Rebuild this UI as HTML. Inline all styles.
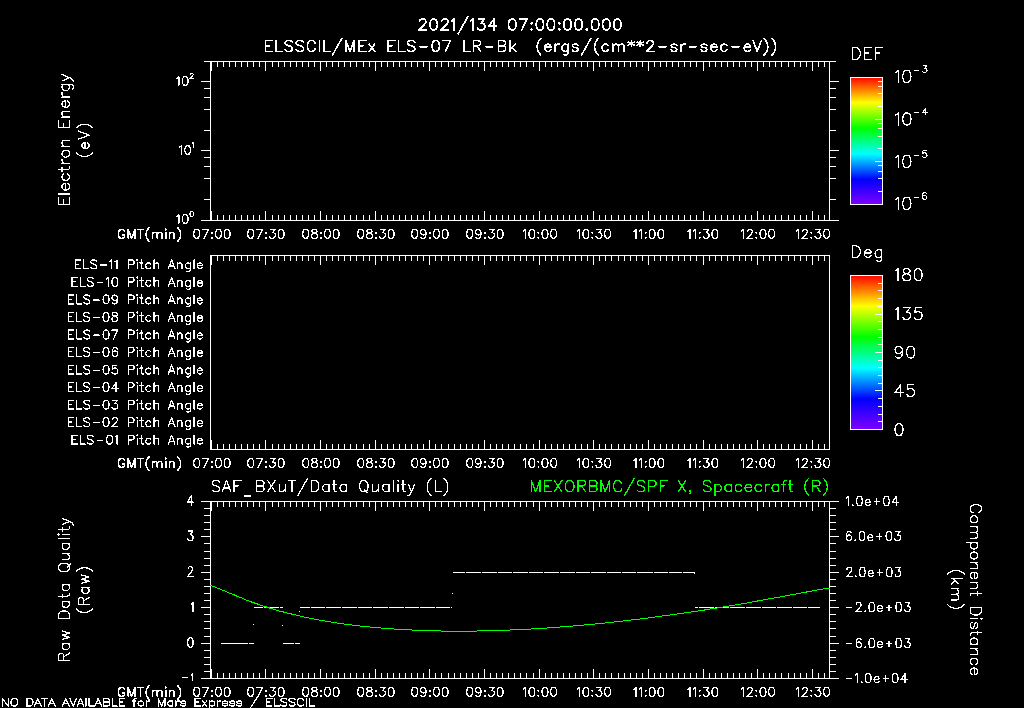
<!DOCTYPE html><html><head><meta charset="utf-8"><style>html,body{margin:0;padding:0;background:#000;}svg{display:block}</style></head><body>
<svg width="1024" height="708" viewBox="0 0 1024 708">
<defs>
<linearGradient id="g1" x1="0" y1="0" x2="0" y2="1"><stop offset="0" stop-color="#ff0000"/><stop offset="0.2" stop-color="#ffff00"/><stop offset="0.4" stop-color="#00ff00"/><stop offset="0.6" stop-color="#00ffff"/><stop offset="0.8" stop-color="#0000ff"/><stop offset="1" stop-color="#8200ff"/></linearGradient>
<linearGradient id="g2" x1="0" y1="0" x2="0" y2="1"><stop offset="0" stop-color="#ff0000"/><stop offset="0.2" stop-color="#ffff00"/><stop offset="0.4" stop-color="#00ff00"/><stop offset="0.6" stop-color="#00ffff"/><stop offset="0.8" stop-color="#0000ff"/><stop offset="1" stop-color="#8200ff"/></linearGradient>
</defs>
<rect width="1024" height="708" fill="#000"/>
<g shape-rendering="crispEdges">
<rect x="850" y="77" width="33" height="128" fill="url(#g1)"/>
<rect x="850" y="275" width="33" height="155" fill="url(#g2)"/>
<path fill="#fff" d="M210 61h620v1h-620zM210 220h620v1h-620zM210 61h1v160h-1zM829 61h1v160h-1zM211 61h1v10h-1zM211 211h1v10h-1zM217 61h1v6h-1zM217 215h1v6h-1zM223 61h1v6h-1zM223 215h1v6h-1zM229 61h1v6h-1zM229 215h1v6h-1zM235 61h1v6h-1zM235 215h1v6h-1zM241 61h1v6h-1zM241 215h1v6h-1zM247 61h1v6h-1zM247 215h1v6h-1zM253 61h1v6h-1zM253 215h1v6h-1zM259 61h1v6h-1zM259 215h1v6h-1zM265 61h1v10h-1zM265 211h1v10h-1zM272 61h1v6h-1zM272 215h1v6h-1zM278 61h1v6h-1zM278 215h1v6h-1zM284 61h1v6h-1zM284 215h1v6h-1zM290 61h1v6h-1zM290 215h1v6h-1zM296 61h1v6h-1zM296 215h1v6h-1zM302 61h1v6h-1zM302 215h1v6h-1zM308 61h1v6h-1zM308 215h1v6h-1zM314 61h1v6h-1zM314 215h1v6h-1zM320 61h1v10h-1zM320 211h1v10h-1zM326 61h1v6h-1zM326 215h1v6h-1zM332 61h1v6h-1zM332 215h1v6h-1zM338 61h1v6h-1zM338 215h1v6h-1zM344 61h1v6h-1zM344 215h1v6h-1zM350 61h1v6h-1zM350 215h1v6h-1zM356 61h1v6h-1zM356 215h1v6h-1zM363 61h1v6h-1zM363 215h1v6h-1zM369 61h1v6h-1zM369 215h1v6h-1zM375 61h1v10h-1zM375 211h1v10h-1zM381 61h1v6h-1zM381 215h1v6h-1zM387 61h1v6h-1zM387 215h1v6h-1zM393 61h1v6h-1zM393 215h1v6h-1zM399 61h1v6h-1zM399 215h1v6h-1zM405 61h1v6h-1zM405 215h1v6h-1zM411 61h1v6h-1zM411 215h1v6h-1zM417 61h1v6h-1zM417 215h1v6h-1zM423 61h1v6h-1zM423 215h1v6h-1zM429 61h1v10h-1zM429 211h1v10h-1zM435 61h1v6h-1zM435 215h1v6h-1zM441 61h1v6h-1zM441 215h1v6h-1zM448 61h1v6h-1zM448 215h1v6h-1zM454 61h1v6h-1zM454 215h1v6h-1zM460 61h1v6h-1zM460 215h1v6h-1zM466 61h1v6h-1zM466 215h1v6h-1zM472 61h1v6h-1zM472 215h1v6h-1zM478 61h1v6h-1zM478 215h1v6h-1zM484 61h1v10h-1zM484 211h1v10h-1zM490 61h1v6h-1zM490 215h1v6h-1zM496 61h1v6h-1zM496 215h1v6h-1zM502 61h1v6h-1zM502 215h1v6h-1zM508 61h1v6h-1zM508 215h1v6h-1zM514 61h1v6h-1zM514 215h1v6h-1zM520 61h1v6h-1zM520 215h1v6h-1zM526 61h1v6h-1zM526 215h1v6h-1zM533 61h1v6h-1zM533 215h1v6h-1zM539 61h1v10h-1zM539 211h1v10h-1zM545 61h1v6h-1zM545 215h1v6h-1zM551 61h1v6h-1zM551 215h1v6h-1zM557 61h1v6h-1zM557 215h1v6h-1zM563 61h1v6h-1zM563 215h1v6h-1zM569 61h1v6h-1zM569 215h1v6h-1zM575 61h1v6h-1zM575 215h1v6h-1zM581 61h1v6h-1zM581 215h1v6h-1zM587 61h1v6h-1zM587 215h1v6h-1zM593 61h1v10h-1zM593 211h1v10h-1zM599 61h1v6h-1zM599 215h1v6h-1zM605 61h1v6h-1zM605 215h1v6h-1zM611 61h1v6h-1zM611 215h1v6h-1zM618 61h1v6h-1zM618 215h1v6h-1zM624 61h1v6h-1zM624 215h1v6h-1zM630 61h1v6h-1zM630 215h1v6h-1zM636 61h1v6h-1zM636 215h1v6h-1zM642 61h1v6h-1zM642 215h1v6h-1zM648 61h1v10h-1zM648 211h1v10h-1zM654 61h1v6h-1zM654 215h1v6h-1zM660 61h1v6h-1zM660 215h1v6h-1zM666 61h1v6h-1zM666 215h1v6h-1zM672 61h1v6h-1zM672 215h1v6h-1zM678 61h1v6h-1zM678 215h1v6h-1zM684 61h1v6h-1zM684 215h1v6h-1zM690 61h1v6h-1zM690 215h1v6h-1zM696 61h1v6h-1zM696 215h1v6h-1zM703 61h1v10h-1zM703 211h1v10h-1zM709 61h1v6h-1zM709 215h1v6h-1zM715 61h1v6h-1zM715 215h1v6h-1zM721 61h1v6h-1zM721 215h1v6h-1zM727 61h1v6h-1zM727 215h1v6h-1zM733 61h1v6h-1zM733 215h1v6h-1zM739 61h1v6h-1zM739 215h1v6h-1zM745 61h1v6h-1zM745 215h1v6h-1zM751 61h1v6h-1zM751 215h1v6h-1zM757 61h1v10h-1zM757 211h1v10h-1zM763 61h1v6h-1zM763 215h1v6h-1zM769 61h1v6h-1zM769 215h1v6h-1zM775 61h1v6h-1zM775 215h1v6h-1zM781 61h1v6h-1zM781 215h1v6h-1zM788 61h1v6h-1zM788 215h1v6h-1zM794 61h1v6h-1zM794 215h1v6h-1zM800 61h1v6h-1zM800 215h1v6h-1zM806 61h1v6h-1zM806 215h1v6h-1zM812 61h1v10h-1zM812 211h1v10h-1zM818 61h1v6h-1zM818 215h1v6h-1zM824 61h1v6h-1zM824 215h1v6h-1zM204 61h7v1h-7zM829 61h7v1h-7zM201 81h10v1h-10zM829 81h10v1h-10zM204 88h7v1h-7zM829 88h7v1h-7zM204 97h7v1h-7zM829 97h7v1h-7zM204 109h7v1h-7zM829 109h7v1h-7zM204 130h7v1h-7zM829 130h7v1h-7zM201 150h10v1h-10zM829 150h10v1h-10zM204 157h7v1h-7zM829 157h7v1h-7zM204 166h7v1h-7zM829 166h7v1h-7zM204 178h7v1h-7zM829 178h7v1h-7zM204 199h7v1h-7zM829 199h7v1h-7zM201 220h10v1h-10zM829 220h10v1h-10zM850 77h33v1h-33zM850 204h33v1h-33zM850 77h1v128h-1zM882 77h1v128h-1zM875 204h8v1h-8zM878 191h5v1h-5zM878 178h5v1h-5zM878 171h5v1h-5zM878 165h5v1h-5zM875 161h8v1h-8zM878 148h5v1h-5zM878 136h5v1h-5zM878 128h5v1h-5zM878 123h5v1h-5zM875 119h8v1h-8zM878 106h5v1h-5zM878 93h5v1h-5zM878 86h5v1h-5zM878 81h5v1h-5zM210 255h620v1h-620zM210 449h620v1h-620zM210 255h1v195h-1zM829 255h1v195h-1zM211 255h1v10h-1zM211 440h1v10h-1zM217 255h1v6h-1zM217 444h1v6h-1zM223 255h1v6h-1zM223 444h1v6h-1zM229 255h1v6h-1zM229 444h1v6h-1zM235 255h1v6h-1zM235 444h1v6h-1zM241 255h1v6h-1zM241 444h1v6h-1zM247 255h1v6h-1zM247 444h1v6h-1zM253 255h1v6h-1zM253 444h1v6h-1zM259 255h1v6h-1zM259 444h1v6h-1zM265 255h1v10h-1zM265 440h1v10h-1zM272 255h1v6h-1zM272 444h1v6h-1zM278 255h1v6h-1zM278 444h1v6h-1zM284 255h1v6h-1zM284 444h1v6h-1zM290 255h1v6h-1zM290 444h1v6h-1zM296 255h1v6h-1zM296 444h1v6h-1zM302 255h1v6h-1zM302 444h1v6h-1zM308 255h1v6h-1zM308 444h1v6h-1zM314 255h1v6h-1zM314 444h1v6h-1zM320 255h1v10h-1zM320 440h1v10h-1zM326 255h1v6h-1zM326 444h1v6h-1zM332 255h1v6h-1zM332 444h1v6h-1zM338 255h1v6h-1zM338 444h1v6h-1zM344 255h1v6h-1zM344 444h1v6h-1zM350 255h1v6h-1zM350 444h1v6h-1zM356 255h1v6h-1zM356 444h1v6h-1zM363 255h1v6h-1zM363 444h1v6h-1zM369 255h1v6h-1zM369 444h1v6h-1zM375 255h1v10h-1zM375 440h1v10h-1zM381 255h1v6h-1zM381 444h1v6h-1zM387 255h1v6h-1zM387 444h1v6h-1zM393 255h1v6h-1zM393 444h1v6h-1zM399 255h1v6h-1zM399 444h1v6h-1zM405 255h1v6h-1zM405 444h1v6h-1zM411 255h1v6h-1zM411 444h1v6h-1zM417 255h1v6h-1zM417 444h1v6h-1zM423 255h1v6h-1zM423 444h1v6h-1zM429 255h1v10h-1zM429 440h1v10h-1zM435 255h1v6h-1zM435 444h1v6h-1zM441 255h1v6h-1zM441 444h1v6h-1zM448 255h1v6h-1zM448 444h1v6h-1zM454 255h1v6h-1zM454 444h1v6h-1zM460 255h1v6h-1zM460 444h1v6h-1zM466 255h1v6h-1zM466 444h1v6h-1zM472 255h1v6h-1zM472 444h1v6h-1zM478 255h1v6h-1zM478 444h1v6h-1zM484 255h1v10h-1zM484 440h1v10h-1zM490 255h1v6h-1zM490 444h1v6h-1zM496 255h1v6h-1zM496 444h1v6h-1zM502 255h1v6h-1zM502 444h1v6h-1zM508 255h1v6h-1zM508 444h1v6h-1zM514 255h1v6h-1zM514 444h1v6h-1zM520 255h1v6h-1zM520 444h1v6h-1zM526 255h1v6h-1zM526 444h1v6h-1zM533 255h1v6h-1zM533 444h1v6h-1zM539 255h1v10h-1zM539 440h1v10h-1zM545 255h1v6h-1zM545 444h1v6h-1zM551 255h1v6h-1zM551 444h1v6h-1zM557 255h1v6h-1zM557 444h1v6h-1zM563 255h1v6h-1zM563 444h1v6h-1zM569 255h1v6h-1zM569 444h1v6h-1zM575 255h1v6h-1zM575 444h1v6h-1zM581 255h1v6h-1zM581 444h1v6h-1zM587 255h1v6h-1zM587 444h1v6h-1zM593 255h1v10h-1zM593 440h1v10h-1zM599 255h1v6h-1zM599 444h1v6h-1zM605 255h1v6h-1zM605 444h1v6h-1zM611 255h1v6h-1zM611 444h1v6h-1zM618 255h1v6h-1zM618 444h1v6h-1zM624 255h1v6h-1zM624 444h1v6h-1zM630 255h1v6h-1zM630 444h1v6h-1zM636 255h1v6h-1zM636 444h1v6h-1zM642 255h1v6h-1zM642 444h1v6h-1zM648 255h1v10h-1zM648 440h1v10h-1zM654 255h1v6h-1zM654 444h1v6h-1zM660 255h1v6h-1zM660 444h1v6h-1zM666 255h1v6h-1zM666 444h1v6h-1zM672 255h1v6h-1zM672 444h1v6h-1zM678 255h1v6h-1zM678 444h1v6h-1zM684 255h1v6h-1zM684 444h1v6h-1zM690 255h1v6h-1zM690 444h1v6h-1zM696 255h1v6h-1zM696 444h1v6h-1zM703 255h1v10h-1zM703 440h1v10h-1zM709 255h1v6h-1zM709 444h1v6h-1zM715 255h1v6h-1zM715 444h1v6h-1zM721 255h1v6h-1zM721 444h1v6h-1zM727 255h1v6h-1zM727 444h1v6h-1zM733 255h1v6h-1zM733 444h1v6h-1zM739 255h1v6h-1zM739 444h1v6h-1zM745 255h1v6h-1zM745 444h1v6h-1zM751 255h1v6h-1zM751 444h1v6h-1zM757 255h1v10h-1zM757 440h1v10h-1zM763 255h1v6h-1zM763 444h1v6h-1zM769 255h1v6h-1zM769 444h1v6h-1zM775 255h1v6h-1zM775 444h1v6h-1zM781 255h1v6h-1zM781 444h1v6h-1zM788 255h1v6h-1zM788 444h1v6h-1zM794 255h1v6h-1zM794 444h1v6h-1zM800 255h1v6h-1zM800 444h1v6h-1zM806 255h1v6h-1zM806 444h1v6h-1zM812 255h1v10h-1zM812 440h1v10h-1zM818 255h1v6h-1zM818 444h1v6h-1zM824 255h1v6h-1zM824 444h1v6h-1zM850 275h33v1h-33zM850 429h33v1h-33zM850 275h1v155h-1zM882 275h1v155h-1zM875 429h8v1h-8zM878 421h5v1h-5zM878 414h5v1h-5zM878 406h5v1h-5zM878 398h5v1h-5zM875 390h8v1h-8zM878 383h5v1h-5zM878 375h5v1h-5zM878 367h5v1h-5zM878 360h5v1h-5zM875 352h8v1h-8zM878 344h5v1h-5zM878 337h5v1h-5zM878 329h5v1h-5zM878 321h5v1h-5zM875 314h8v1h-8zM878 306h5v1h-5zM878 298h5v1h-5zM878 290h5v1h-5zM878 283h5v1h-5zM875 275h8v1h-8zM210 501h620v1h-620zM210 678h620v1h-620zM210 501h1v178h-1zM829 501h1v178h-1zM211 501h1v10h-1zM211 669h1v10h-1zM217 501h1v6h-1zM217 673h1v6h-1zM223 501h1v6h-1zM223 673h1v6h-1zM229 501h1v6h-1zM229 673h1v6h-1zM235 501h1v6h-1zM235 673h1v6h-1zM241 501h1v6h-1zM241 673h1v6h-1zM247 501h1v6h-1zM247 673h1v6h-1zM253 501h1v6h-1zM253 673h1v6h-1zM259 501h1v6h-1zM259 673h1v6h-1zM265 501h1v10h-1zM265 669h1v10h-1zM272 501h1v6h-1zM272 673h1v6h-1zM278 501h1v6h-1zM278 673h1v6h-1zM284 501h1v6h-1zM284 673h1v6h-1zM290 501h1v6h-1zM290 673h1v6h-1zM296 501h1v6h-1zM296 673h1v6h-1zM302 501h1v6h-1zM302 673h1v6h-1zM308 501h1v6h-1zM308 673h1v6h-1zM314 501h1v6h-1zM314 673h1v6h-1zM320 501h1v10h-1zM320 669h1v10h-1zM326 501h1v6h-1zM326 673h1v6h-1zM332 501h1v6h-1zM332 673h1v6h-1zM338 501h1v6h-1zM338 673h1v6h-1zM344 501h1v6h-1zM344 673h1v6h-1zM350 501h1v6h-1zM350 673h1v6h-1zM356 501h1v6h-1zM356 673h1v6h-1zM363 501h1v6h-1zM363 673h1v6h-1zM369 501h1v6h-1zM369 673h1v6h-1zM375 501h1v10h-1zM375 669h1v10h-1zM381 501h1v6h-1zM381 673h1v6h-1zM387 501h1v6h-1zM387 673h1v6h-1zM393 501h1v6h-1zM393 673h1v6h-1zM399 501h1v6h-1zM399 673h1v6h-1zM405 501h1v6h-1zM405 673h1v6h-1zM411 501h1v6h-1zM411 673h1v6h-1zM417 501h1v6h-1zM417 673h1v6h-1zM423 501h1v6h-1zM423 673h1v6h-1zM429 501h1v10h-1zM429 669h1v10h-1zM435 501h1v6h-1zM435 673h1v6h-1zM441 501h1v6h-1zM441 673h1v6h-1zM448 501h1v6h-1zM448 673h1v6h-1zM454 501h1v6h-1zM454 673h1v6h-1zM460 501h1v6h-1zM460 673h1v6h-1zM466 501h1v6h-1zM466 673h1v6h-1zM472 501h1v6h-1zM472 673h1v6h-1zM478 501h1v6h-1zM478 673h1v6h-1zM484 501h1v10h-1zM484 669h1v10h-1zM490 501h1v6h-1zM490 673h1v6h-1zM496 501h1v6h-1zM496 673h1v6h-1zM502 501h1v6h-1zM502 673h1v6h-1zM508 501h1v6h-1zM508 673h1v6h-1zM514 501h1v6h-1zM514 673h1v6h-1zM520 501h1v6h-1zM520 673h1v6h-1zM526 501h1v6h-1zM526 673h1v6h-1zM533 501h1v6h-1zM533 673h1v6h-1zM539 501h1v10h-1zM539 669h1v10h-1zM545 501h1v6h-1zM545 673h1v6h-1zM551 501h1v6h-1zM551 673h1v6h-1zM557 501h1v6h-1zM557 673h1v6h-1zM563 501h1v6h-1zM563 673h1v6h-1zM569 501h1v6h-1zM569 673h1v6h-1zM575 501h1v6h-1zM575 673h1v6h-1zM581 501h1v6h-1zM581 673h1v6h-1zM587 501h1v6h-1zM587 673h1v6h-1zM593 501h1v10h-1zM593 669h1v10h-1zM599 501h1v6h-1zM599 673h1v6h-1zM605 501h1v6h-1zM605 673h1v6h-1zM611 501h1v6h-1zM611 673h1v6h-1zM618 501h1v6h-1zM618 673h1v6h-1zM624 501h1v6h-1zM624 673h1v6h-1zM630 501h1v6h-1zM630 673h1v6h-1zM636 501h1v6h-1zM636 673h1v6h-1zM642 501h1v6h-1zM642 673h1v6h-1zM648 501h1v10h-1zM648 669h1v10h-1zM654 501h1v6h-1zM654 673h1v6h-1zM660 501h1v6h-1zM660 673h1v6h-1zM666 501h1v6h-1zM666 673h1v6h-1zM672 501h1v6h-1zM672 673h1v6h-1zM678 501h1v6h-1zM678 673h1v6h-1zM684 501h1v6h-1zM684 673h1v6h-1zM690 501h1v6h-1zM690 673h1v6h-1zM696 501h1v6h-1zM696 673h1v6h-1zM703 501h1v10h-1zM703 669h1v10h-1zM709 501h1v6h-1zM709 673h1v6h-1zM715 501h1v6h-1zM715 673h1v6h-1zM721 501h1v6h-1zM721 673h1v6h-1zM727 501h1v6h-1zM727 673h1v6h-1zM733 501h1v6h-1zM733 673h1v6h-1zM739 501h1v6h-1zM739 673h1v6h-1zM745 501h1v6h-1zM745 673h1v6h-1zM751 501h1v6h-1zM751 673h1v6h-1zM757 501h1v10h-1zM757 669h1v10h-1zM763 501h1v6h-1zM763 673h1v6h-1zM769 501h1v6h-1zM769 673h1v6h-1zM775 501h1v6h-1zM775 673h1v6h-1zM781 501h1v6h-1zM781 673h1v6h-1zM788 501h1v6h-1zM788 673h1v6h-1zM794 501h1v6h-1zM794 673h1v6h-1zM800 501h1v6h-1zM800 673h1v6h-1zM806 501h1v6h-1zM806 673h1v6h-1zM812 501h1v10h-1zM812 669h1v10h-1zM818 501h1v6h-1zM818 673h1v6h-1zM824 501h1v6h-1zM824 673h1v6h-1zM201 501h10v1h-10zM829 501h10v1h-10zM204 508h7v1h-7zM829 508h7v1h-7zM204 515h7v1h-7zM829 515h7v1h-7zM204 522h7v1h-7zM829 522h7v1h-7zM204 529h7v1h-7zM829 529h7v1h-7zM201 536h10v1h-10zM829 536h10v1h-10zM204 543h7v1h-7zM829 543h7v1h-7zM204 551h7v1h-7zM829 551h7v1h-7zM204 558h7v1h-7zM829 558h7v1h-7zM204 565h7v1h-7zM829 565h7v1h-7zM201 572h10v1h-10zM829 572h10v1h-10zM204 579h7v1h-7zM829 579h7v1h-7zM204 586h7v1h-7zM829 586h7v1h-7zM204 593h7v1h-7zM829 593h7v1h-7zM204 600h7v1h-7zM829 600h7v1h-7zM201 607h10v1h-10zM829 607h10v1h-10zM204 614h7v1h-7zM829 614h7v1h-7zM204 621h7v1h-7zM829 621h7v1h-7zM204 628h7v1h-7zM829 628h7v1h-7zM204 636h7v1h-7zM829 636h7v1h-7zM201 643h10v1h-10zM829 643h10v1h-10zM204 650h7v1h-7zM829 650h7v1h-7zM204 657h7v1h-7zM829 657h7v1h-7zM204 664h7v1h-7zM829 664h7v1h-7zM204 671h7v1h-7zM829 671h7v1h-7zM201 678h10v1h-10zM829 678h10v1h-10zM221 643h12v1h-12zM233 643h15v1h-15zM249 643h5v1h-5zM283 643h11v1h-11zM295 643h5v1h-5zM254 607h9v1h-9zM264 607h15v1h-15zM280 607h3v1h-3zM300 607h10v1h-10zM311 607h14v1h-14zM326 607h15v1h-15zM342 607h15v1h-15zM358 607h14v1h-14zM373 607h15v1h-15zM389 607h15v1h-15zM405 607h14v1h-14zM420 607h15v1h-15zM436 607h14v1h-14zM451 607h1v1h-1zM453 572h12v1h-12zM466 572h15v1h-15zM482 572h15v1h-15zM498 572h14v1h-14zM513 572h15v1h-15zM529 572h14v1h-14zM544 572h15v1h-15zM560 572h15v1h-15zM576 572h14v1h-14zM591 572h15v1h-15zM607 572h14v1h-14zM622 572h14v1h-14zM637 572h16v1h-16zM654 572h14v1h-14zM669 572h13v1h-13zM683 572h12v1h-12zM695 607h3v1h-3zM699 607h15v1h-15zM715 607h14v1h-14zM730 607h15v1h-15zM746 607h15v1h-15zM762 607h14v1h-14zM777 607h15v1h-15zM793 607h14v1h-14zM808 607h12v1h-12zM253 624h1v1h-1zM282 625h1v1h-1zM299 611h1v1h-1zM452 593h1v1h-1zM694 573h1v1h-1z"/>
</g>
<polyline points="210.5,585.5 214,586.5 218.5,588.5 221,589.5 223.5,590.5 226,591.5 228,592.5 230,593.5 233.5,594.5 237.5,596.5 241,597.5 245,599.5 250,601.5 256,603.5 259,604.5 261.5,605.5 265,606.5 268,607.5 271,608.5 274.5,609.5 277,610.5 281.5,611.5 285.5,612.5 289,613.5 294,614.5 298.5,615.5 302,616.5 306.5,617.5 312,618.5 316.5,619.5 321,620.5 328,621.5 333.5,622.5 340,623.5 347.5,624.5 355.5,625.5 364.5,626.5 374.5,627.5 386.5,628.5 401,629.5 423,630.5 458,631.5 497,630.5 523,629.5 540,628.5 554,627.5 567,626.5 578.5,625.5 589.5,624.5 600,623.5 610,622.5 619,621.5 627,620.5 636,619.5 644.5,618.5 652,617.5 659,616.5 666,615.5 673.5,614.5 681,613.5 688,612.5 694.5,611.5 702,610.5 707,609.5 714,608.5 720.5,607.5 726,606.5 732,605.5 738.5,604.5 744,603.5 749.5,602.5 755,601.5 760,600.5 765.5,599.5 771,598.5 777,597.5 782.5,596.5 787.5,595.5 793,594.5 798.5,593.5 804,592.5 809,591.5 814.5,590.5 820,589.5 825.5,588.5 829.5,588.5" fill="none" stroke="#00ff00" stroke-width="1" shape-rendering="crispEdges"/>
<g fill="none" stroke-linecap="round" stroke-linejoin="round" shape-rendering="crispEdges">
<path d="M419.52 21.62 419.52 21.09 420.05 20.04 420.57 19.52 421.62 19 423.72 19 424.76 19.52 425.29 20.04 425.81 21.09 425.81 22.14 425.29 23.19 424.24 24.76 419 30 426.34 30M433.2 19 431.63 19.52 430.58 21.09 430.06 23.71 430.06 25.28 430.58 27.9 431.63 29.48 433.2 30 434.25 30 435.82 29.48 436.87 27.9 437.4 25.28 437.4 23.71 436.87 21.09 435.82 19.52 434.25 19 433.2 19M441.64 21.62 441.64 21.09 442.17 20.04 442.69 19.52 443.74 19 445.84 19 446.88 19.52 447.41 20.04 447.93 21.09 447.93 22.14 447.41 23.19 446.36 24.76 441.12 30 448.46 30M451.54 21.09 452.59 20.57 454.16 19 454.16 30M467.75 16.9 458.32 33.67M470.34 21.09 471.39 20.57 472.96 19 472.96 30M478.67 19 484.43 19 481.29 23.19 482.86 23.19 483.91 23.71 484.43 24.24 484.96 25.81 484.96 26.86 484.43 28.43 483.38 29.48 481.81 30 480.24 30 478.67 29.48 478.14 28.95 477.62 27.9M493.92 19 488.68 26.33 496.54 26.33M493.92 19 493.92 30M511.73 19 510.16 19.52 509.11 21.09 508.59 23.71 508.59 25.28 509.11 27.9 510.16 29.48 511.73 30 512.78 30 514.35 29.48 515.4 27.9 515.93 25.28 515.93 23.71 515.4 21.09 514.35 19.52 512.78 19 511.73 19M526.99 19 521.75 30M519.65 19 526.99 19M531.61 22.66 531.09 23.19 531.61 23.71 532.14 23.19 531.61 22.66M531.61 28.95 531.09 29.48 531.61 30 532.14 29.48 531.61 28.95M539.38 19 537.81 19.52 536.76 21.09 536.24 23.71 536.24 25.28 536.76 27.9 537.81 29.48 539.38 30 540.43 30 542 29.48 543.05 27.9 543.58 25.28 543.58 23.71 543.05 21.09 542 19.52 540.43 19 539.38 19M550.45 19 548.87 19.52 547.83 21.09 547.3 23.71 547.3 25.28 547.83 27.9 548.87 29.48 550.45 30 551.49 30 553.07 29.48 554.11 27.9 554.64 25.28 554.64 23.71 554.11 21.09 553.07 19.52 551.49 19 550.45 19M559.26 22.66 558.74 23.19 559.26 23.71 559.79 23.19 559.26 22.66M559.26 28.95 558.74 29.48 559.26 30 559.79 29.48 559.26 28.95M567.04 19 565.46 19.52 564.42 21.09 563.89 23.71 563.89 25.28 564.42 27.9 565.46 29.48 567.04 30 568.08 30 569.66 29.48 570.7 27.9 571.23 25.28 571.23 23.71 570.7 21.09 569.66 19.52 568.08 19 567.04 19M578.1 19 576.52 19.52 575.48 21.09 574.95 23.71 574.95 25.28 575.48 27.9 576.52 29.48 578.1 30 579.14 30 580.72 29.48 581.76 27.9 582.29 25.28 582.29 23.71 581.76 21.09 580.72 19.52 579.14 19 578.1 19M586.92 28.95 586.39 29.48 586.92 30 587.44 29.48 586.92 28.95M594.69 19 593.12 19.52 592.07 21.09 591.54 23.71 591.54 25.28 592.07 27.9 593.12 29.48 594.69 30 595.74 30 597.31 29.48 598.36 27.9 598.88 25.28 598.88 23.71 598.36 21.09 597.31 19.52 595.74 19 594.69 19M605.75 19 604.18 19.52 603.13 21.09 602.6 23.71 602.6 25.28 603.13 27.9 604.18 29.48 605.75 30 606.8 30 608.37 29.48 609.42 27.9 609.94 25.28 609.94 23.71 609.42 21.09 608.37 19.52 606.8 19 605.75 19M616.81 19 615.24 19.52 614.19 21.09 613.66 23.71 613.66 25.28 614.19 27.9 615.24 29.48 616.81 30 617.86 30 619.43 29.48 620.48 27.9 621 25.28 621 23.71 620.48 21.09 619.43 19.52 617.86 19 616.81 19" stroke="#fff" stroke-width="1.7"/>
<path d="M265.5 40.56 265.5 51.4M265.5 40.56 272.21 40.56M265.5 45.72 269.63 45.72M265.5 51.4 272.21 51.4M276.09 40.56 276.09 51.4M276.09 51.4 282.28 51.4M292.27 42.11 291.23 41.08 289.69 40.56 287.62 40.56 286.07 41.08 285.04 42.11 285.04 43.14 285.56 44.18 286.07 44.69 287.11 45.21 290.2 46.24 291.23 46.76 291.75 47.27 292.27 48.3 292.27 49.85 291.23 50.88 289.69 51.4 287.62 51.4 286.07 50.88 285.04 49.85M303.41 42.11 302.38 41.08 300.83 40.56 298.77 40.56 297.22 41.08 296.19 42.11 296.19 43.14 296.7 44.18 297.22 44.69 298.25 45.21 301.35 46.24 302.38 46.76 302.89 47.27 303.41 48.3 303.41 49.85 302.38 50.88 300.83 51.4 298.77 51.4 297.22 50.88 296.19 49.85M315.07 43.14 314.55 42.11 313.52 41.08 312.49 40.56 310.43 40.56 309.39 41.08 308.36 42.11 307.85 43.14 307.33 44.69 307.33 47.27 307.85 48.82 308.36 49.85 309.39 50.88 310.43 51.4 312.49 51.4 313.52 50.88 314.55 49.85 315.07 48.82M319.3 40.56 319.3 51.4M324 40.56 324 51.4M324 51.4 330.2 51.4M341.77 38.5 332.48 55.01M345.82 40.56 345.82 51.4M345.82 40.56 349.94 51.4M354.07 40.56 349.94 51.4M354.07 40.56 354.07 51.4M359.11 40.56 359.11 51.4M359.11 40.56 365.81 40.56M359.11 45.72 363.23 45.72M359.11 51.4 365.81 51.4M369.09 44.18 374.77 51.4M374.77 44.18 369.09 51.4M388.08 40.56 388.08 51.4M388.08 40.56 394.79 40.56M388.08 45.72 392.21 45.72M388.08 51.4 394.79 51.4M398.66 40.56 398.66 51.4M398.66 51.4 404.86 51.4M414.84 42.11 413.81 41.08 412.26 40.56 410.2 40.56 408.65 41.08 407.62 42.11 407.62 43.14 408.14 44.18 408.65 44.69 409.68 45.21 412.78 46.24 413.81 46.76 414.33 47.27 414.84 48.3 414.84 49.85 413.81 50.88 412.26 51.4 410.2 51.4 408.65 50.88 407.62 49.85M420.14 46.76 426.84 46.76M435.23 40.56 433.68 41.08 432.65 42.63 432.14 45.21 432.14 46.76 432.65 49.34 433.68 50.88 435.23 51.4 436.26 51.4 437.81 50.88 438.84 49.34 439.36 46.76 439.36 45.21 438.84 42.63 437.81 41.08 436.26 40.56 435.23 40.56M450.5 40.56 445.34 51.4M443.28 40.56 450.5 40.56M463.85 40.56 463.85 51.4M463.85 51.4 470.05 51.4M473.37 40.56 473.37 51.4M473.37 40.56 478.01 40.56 479.56 41.08 480.07 41.6 480.59 42.63 480.59 43.66 480.07 44.69 479.56 45.21 478.01 45.72 473.37 45.72M476.98 45.72 480.59 51.4M485.88 46.76 492.59 46.76M498.44 40.56 498.44 51.4M498.44 40.56 503.08 40.56 504.63 41.08 505.15 41.6 505.66 42.63 505.66 43.66 505.15 44.69 504.63 45.21 503.08 45.72M498.44 45.72 503.08 45.72 504.63 46.24 505.15 46.76 505.66 47.79 505.66 49.34 505.15 50.37 504.63 50.88 503.08 51.4 498.44 51.4M510.06 40.56 510.06 51.4M515.22 44.18 510.06 49.34M512.12 47.27 515.73 51.4M540.89 38.5 539.86 39.53 538.82 41.08 537.79 43.14 537.28 45.72 537.28 47.79 537.79 50.37 538.82 52.43 539.86 53.98 540.89 55.01M544.64 47.27 550.84 47.27 550.84 46.24 550.32 45.21 549.8 44.69 548.77 44.18 547.22 44.18 546.19 44.69 545.16 45.72 544.64 47.27 544.64 48.3 545.16 49.85 546.19 50.88 547.22 51.4 548.77 51.4 549.8 50.88 550.84 49.85M555.11 44.18 555.11 51.4M555.11 47.27 555.62 45.72 556.65 44.69 557.69 44.18 559.23 44.18M568.11 44.18 568.11 52.43 567.59 53.98 567.08 54.5 566.04 55.01 564.5 55.01 563.46 54.5M568.11 45.72 567.08 44.69 566.04 44.18 564.5 44.18 563.46 44.69 562.43 45.72 561.92 47.27 561.92 48.3 562.43 49.85 563.46 50.88 564.5 51.4 566.04 51.4 567.08 50.88 568.11 49.85M578.14 45.72 577.62 44.69 576.07 44.18 574.53 44.18 572.98 44.69 572.46 45.72 572.98 46.76 574.01 47.27 576.59 47.79 577.62 48.3 578.14 49.34 578.14 49.85 577.62 50.88 576.07 51.4 574.53 51.4 572.98 50.88 572.46 49.85M590.83 38.5 581.54 55.01M598.28 38.5 597.25 39.53 596.21 41.08 595.18 43.14 594.67 45.72 594.67 47.79 595.18 50.37 596.21 52.43 597.25 53.98 598.28 55.01M608.22 45.72 607.19 44.69 606.16 44.18 604.61 44.18 603.58 44.69 602.55 45.72 602.03 47.27 602.03 48.3 602.55 49.85 603.58 50.88 604.61 51.4 606.16 51.4 607.19 50.88 608.22 49.85M612.82 44.18 612.82 51.4M612.82 46.24 614.37 44.69 615.4 44.18 616.95 44.18 617.98 44.69 618.5 46.24 618.5 51.4M618.5 46.24 620.05 44.69 621.08 44.18 622.63 44.18 623.66 44.69 624.18 46.24 624.18 51.4M631.32 40.82 631.32 46.5M628.22 42.11 634.41 45.21M634.41 42.11 628.22 45.21M640.23 40.82 640.23 46.5M637.13 42.11 643.33 45.21M643.33 42.11 637.13 45.21M647.16 43.14 647.16 42.63 647.68 41.6 648.2 41.08 649.23 40.56 651.29 40.56 652.32 41.08 652.84 41.6 653.36 42.63 653.36 43.66 652.84 44.69 651.81 46.24 646.65 51.4 653.87 51.4M659.16 46.76 665.87 46.76M676.76 45.72 676.24 44.69 674.69 44.18 673.14 44.18 671.6 44.69 671.08 45.72 671.6 46.76 672.63 47.27 675.21 47.79 676.24 48.3 676.76 49.34 676.76 49.85 676.24 50.88 674.69 51.4 673.14 51.4 671.6 50.88 671.08 49.85M681.03 44.18 681.03 51.4M681.03 47.27 681.54 45.72 682.58 44.69 683.61 44.18 685.16 44.18M689.25 46.76 695.96 46.76M706.84 45.72 706.33 44.69 704.78 44.18 703.23 44.18 701.68 44.69 701.17 45.72 701.68 46.76 702.72 47.27 705.3 47.79 706.33 48.3 706.84 49.34 706.84 49.85 706.33 50.88 704.78 51.4 703.23 51.4 701.68 50.88 701.17 49.85M710.68 47.27 716.87 47.27 716.87 46.24 716.36 45.21 715.84 44.69 714.81 44.18 713.26 44.18 712.23 44.69 711.2 45.72 710.68 47.27 710.68 48.3 711.2 49.85 712.23 50.88 713.26 51.4 714.81 51.4 715.84 50.88 716.87 49.85M726.9 45.72 725.87 44.69 724.84 44.18 723.29 44.18 722.26 44.69 721.23 45.72 720.71 47.27 720.71 48.3 721.23 49.85 722.26 50.88 723.29 51.4 724.84 51.4 725.87 50.88 726.9 49.85M732.15 46.76 738.86 46.76M744.11 47.27 750.3 47.27 750.3 46.24 749.79 45.21 749.27 44.69 748.24 44.18 746.69 44.18 745.66 44.69 744.63 45.72 744.11 47.27 744.11 48.3 744.63 49.85 745.66 50.88 746.69 51.4 748.24 51.4 749.27 50.88 750.3 49.85M753.11 40.56 757.24 51.4M761.36 40.56 757.24 51.4M764.09 38.5 765.12 39.53 766.15 41.08 767.18 43.14 767.7 45.72 767.7 47.79 767.18 50.37 766.15 52.43 765.12 53.98 764.09 55.01M771.89 38.5 772.92 39.53 773.95 41.08 774.98 43.14 775.5 45.72 775.5 47.79 774.98 50.37 773.95 52.43 772.92 53.98 771.89 55.01" stroke="#fff" stroke-width="1.6"/>
<path d="M124.6 231.58 124.18 230.74 123.34 229.9 122.5 229.48 120.82 229.48 119.98 229.9 119.14 230.74 118.72 231.58 118.3 232.84 118.3 234.94 118.72 236.2 119.14 237.04 119.98 237.88 120.82 238.3 122.5 238.3 123.34 237.88 124.18 237.04 124.6 236.2 124.6 234.94M122.5 234.94 124.6 234.94M128.24 229.48 128.24 238.3M128.24 229.48 131.6 238.3M134.96 229.48 131.6 238.3M134.96 229.48 134.96 238.3M140.61 229.48 140.61 238.3M137.67 229.48 143.55 229.48M149.04 227.8 148.2 228.64 147.36 229.9 146.52 231.58 146.1 233.68 146.1 235.36 146.52 237.46 147.36 239.14 148.2 240.4 149.04 241.24M152.65 232.42 152.65 238.3M152.65 234.1 153.91 232.84 154.75 232.42 156.01 232.42 156.85 232.84 157.27 234.1 157.27 238.3M157.27 234.1 158.53 232.84 159.37 232.42 160.63 232.42 161.47 232.84 161.89 234.1 161.89 238.3M165.41 229.48 165.83 229.9 166.25 229.48 165.83 229.06 165.41 229.48M165.83 232.42 165.83 238.3M169.58 232.42 169.58 238.3M169.58 234.1 170.84 232.84 171.68 232.42 172.94 232.42 173.78 232.84 174.2 234.1 174.2 238.3M177.66 227.8 178.5 228.64 179.34 229.9 180.18 231.58 180.6 233.68 180.6 235.36 180.18 237.46 179.34 239.14 178.5 240.4 177.66 241.24" stroke="#fff" stroke-width="1.6"/>
<path d="M196.26 229.48 195 229.9 194.16 231.16 193.74 233.26 193.74 234.52 194.16 236.62 195 237.88 196.26 238.3 197.09 238.3 198.36 237.88 199.2 236.62 199.62 234.52 199.62 233.26 199.2 231.16 198.36 229.9 197.09 229.48 196.26 229.48M208.32 229.48 204.12 238.3M202.44 229.48 208.32 229.48M211.9 232.42 211.48 232.84 211.9 233.26 212.32 232.84 211.9 232.42M211.9 237.46 211.48 237.88 211.9 238.3 212.32 237.88 211.9 237.46M218.01 229.48 216.75 229.9 215.91 231.16 215.49 233.26 215.49 234.52 215.91 236.62 216.75 237.88 218.01 238.3 218.84 238.3 220.11 237.88 220.95 236.62 221.37 234.52 221.37 233.26 220.95 231.16 220.11 229.9 218.84 229.48 218.01 229.48M226.71 229.48 225.44 229.9 224.6 231.16 224.19 233.26 224.19 234.52 224.6 236.62 225.44 237.88 226.71 238.3 227.54 238.3 228.81 237.88 229.65 236.62 230.06 234.52 230.06 233.26 229.65 231.16 228.81 229.9 227.54 229.48 226.71 229.48" stroke="#fff" stroke-width="1.3"/>
<path d="M250.25 229.48 248.99 229.9 248.15 231.16 247.73 233.26 247.73 234.52 248.15 236.62 248.99 237.88 250.25 238.3 251.09 238.3 252.35 237.88 253.19 236.62 253.61 234.52 253.61 233.26 253.19 231.16 252.35 229.9 251.09 229.48 250.25 229.48M262.31 229.48 258.12 238.3M256.44 229.48 262.31 229.48M265.9 232.42 265.48 232.84 265.9 233.26 266.32 232.84 265.9 232.42M265.9 237.46 265.48 237.88 265.9 238.3 266.32 237.88 265.9 237.46M270.32 229.48 274.94 229.48 272.43 232.84 273.69 232.84 274.53 233.26 274.94 233.68 275.37 234.94 275.37 235.78 274.94 237.04 274.11 237.88 272.85 238.3 271.59 238.3 270.32 237.88 269.91 237.46 269.49 236.62M280.7 229.48 279.44 229.9 278.61 231.16 278.19 233.26 278.19 234.52 278.61 236.62 279.44 237.88 280.7 238.3 281.55 238.3 282.81 237.88 283.64 236.62 284.06 234.52 284.06 233.26 283.64 231.16 282.81 229.9 281.55 229.48 280.7 229.48" stroke="#fff" stroke-width="1.3"/>
<path d="M305.25 229.48 304 229.9 303.16 231.16 302.74 233.26 302.74 234.52 303.16 236.62 304 237.88 305.25 238.3 306.1 238.3 307.36 237.88 308.19 236.62 308.62 234.52 308.62 233.26 308.19 231.16 307.36 229.9 306.1 229.48 305.25 229.48M313.54 229.48 312.27 229.9 311.86 230.74 311.86 231.58 312.27 232.42 313.12 232.84 314.8 233.26 316.06 233.68 316.89 234.52 317.31 235.36 317.31 236.62 316.89 237.46 316.48 237.88 315.21 238.3 313.54 238.3 312.27 237.88 311.86 237.46 311.44 236.62 311.44 235.36 311.86 234.52 312.69 233.68 313.95 233.26 315.63 232.84 316.48 232.42 316.89 231.58 316.89 230.74 316.48 229.9 315.21 229.48 313.54 229.48M320.9 232.42 320.48 232.84 320.9 233.26 321.32 232.84 320.9 232.42M320.9 237.46 320.48 237.88 320.9 238.3 321.32 237.88 320.9 237.46M327 229.48 325.75 229.9 324.91 231.16 324.49 233.26 324.49 234.52 324.91 236.62 325.75 237.88 327 238.3 327.85 238.3 329.11 237.88 329.94 236.62 330.37 234.52 330.37 233.26 329.94 231.16 329.11 229.9 327.85 229.48 327 229.48M335.7 229.48 334.44 229.9 333.61 231.16 333.19 233.26 333.19 234.52 333.61 236.62 334.44 237.88 335.7 238.3 336.55 238.3 337.81 237.88 338.64 236.62 339.06 234.52 339.06 233.26 338.64 231.16 337.81 229.9 336.55 229.48 335.7 229.48" stroke="#fff" stroke-width="1.3"/>
<path d="M360.25 229.48 359 229.9 358.16 231.16 357.74 233.26 357.74 234.52 358.16 236.62 359 237.88 360.25 238.3 361.1 238.3 362.36 237.88 363.19 236.62 363.62 234.52 363.62 233.26 363.19 231.16 362.36 229.9 361.1 229.48 360.25 229.48M368.54 229.48 367.27 229.9 366.86 230.74 366.86 231.58 367.27 232.42 368.12 232.84 369.8 233.26 371.06 233.68 371.89 234.52 372.31 235.36 372.31 236.62 371.89 237.46 371.48 237.88 370.21 238.3 368.54 238.3 367.27 237.88 366.86 237.46 366.44 236.62 366.44 235.36 366.86 234.52 367.69 233.68 368.95 233.26 370.63 232.84 371.48 232.42 371.89 231.58 371.89 230.74 371.48 229.9 370.21 229.48 368.54 229.48M375.9 232.42 375.48 232.84 375.9 233.26 376.32 232.84 375.9 232.42M375.9 237.46 375.48 237.88 375.9 238.3 376.32 237.88 375.9 237.46M380.32 229.48 384.94 229.48 382.43 232.84 383.69 232.84 384.53 233.26 384.94 233.68 385.37 234.94 385.37 235.78 384.94 237.04 384.11 237.88 382.85 238.3 381.59 238.3 380.32 237.88 379.91 237.46 379.49 236.62M390.7 229.48 389.44 229.9 388.61 231.16 388.19 233.26 388.19 234.52 388.61 236.62 389.44 237.88 390.7 238.3 391.55 238.3 392.81 237.88 393.64 236.62 394.06 234.52 394.06 233.26 393.64 231.16 392.81 229.9 391.55 229.48 390.7 229.48" stroke="#fff" stroke-width="1.3"/>
<path d="M414.25 229.48 413 229.9 412.16 231.16 411.74 233.26 411.74 234.52 412.16 236.62 413 237.88 414.25 238.3 415.1 238.3 416.36 237.88 417.19 236.62 417.62 234.52 417.62 233.26 417.19 231.16 416.36 229.9 415.1 229.48 414.25 229.48M425.89 232.42 425.48 233.68 424.63 234.52 423.38 234.94 422.95 234.94 421.69 234.52 420.86 233.68 420.44 232.42 420.44 232 420.86 230.74 421.69 229.9 422.95 229.48 423.38 229.48 424.63 229.9 425.48 230.74 425.89 232.42 425.89 234.52 425.48 236.62 424.63 237.88 423.38 238.3 422.54 238.3 421.27 237.88 420.86 237.04M429.9 232.42 429.48 232.84 429.9 233.26 430.32 232.84 429.9 232.42M429.9 237.46 429.48 237.88 429.9 238.3 430.32 237.88 429.9 237.46M436 229.48 434.75 229.9 433.91 231.16 433.49 233.26 433.49 234.52 433.91 236.62 434.75 237.88 436 238.3 436.85 238.3 438.11 237.88 438.94 236.62 439.37 234.52 439.37 233.26 438.94 231.16 438.11 229.9 436.85 229.48 436 229.48M444.7 229.48 443.44 229.9 442.61 231.16 442.19 233.26 442.19 234.52 442.61 236.62 443.44 237.88 444.7 238.3 445.55 238.3 446.81 237.88 447.64 236.62 448.06 234.52 448.06 233.26 447.64 231.16 446.81 229.9 445.55 229.48 444.7 229.48" stroke="#fff" stroke-width="1.3"/>
<path d="M469.25 229.48 468 229.9 467.16 231.16 466.74 233.26 466.74 234.52 467.16 236.62 468 237.88 469.25 238.3 470.1 238.3 471.36 237.88 472.19 236.62 472.62 234.52 472.62 233.26 472.19 231.16 471.36 229.9 470.1 229.48 469.25 229.48M480.89 232.42 480.48 233.68 479.63 234.52 478.38 234.94 477.95 234.94 476.69 234.52 475.86 233.68 475.44 232.42 475.44 232 475.86 230.74 476.69 229.9 477.95 229.48 478.38 229.48 479.63 229.9 480.48 230.74 480.89 232.42 480.89 234.52 480.48 236.62 479.63 237.88 478.38 238.3 477.54 238.3 476.27 237.88 475.86 237.04M484.9 232.42 484.48 232.84 484.9 233.26 485.32 232.84 484.9 232.42M484.9 237.46 484.48 237.88 484.9 238.3 485.32 237.88 484.9 237.46M489.32 229.48 493.94 229.48 491.43 232.84 492.69 232.84 493.53 233.26 493.94 233.68 494.37 234.94 494.37 235.78 493.94 237.04 493.11 237.88 491.85 238.3 490.59 238.3 489.32 237.88 488.91 237.46 488.49 236.62M499.7 229.48 498.44 229.9 497.61 231.16 497.19 233.26 497.19 234.52 497.61 236.62 498.44 237.88 499.7 238.3 500.55 238.3 501.81 237.88 502.64 236.62 503.06 234.52 503.06 233.26 502.64 231.16 501.81 229.9 500.55 229.48 499.7 229.48" stroke="#fff" stroke-width="1.3"/>
<path d="M523.24 231.16 524.07 230.74 525.33 229.48 525.33 238.3M531.46 229.48 530.2 229.9 529.36 231.16 528.93 233.26 528.93 234.52 529.36 236.62 530.2 237.88 531.46 238.3 532.29 238.3 533.55 237.88 534.39 236.62 534.82 234.52 534.82 233.26 534.39 231.16 533.55 229.9 532.29 229.48 531.46 229.48M538.4 232.42 537.98 232.84 538.4 233.26 538.82 232.84 538.4 232.42M538.4 237.46 537.98 237.88 538.4 238.3 538.82 237.88 538.4 237.46M544.5 229.48 543.25 229.9 542.4 231.16 541.98 233.26 541.98 234.52 542.4 236.62 543.25 237.88 544.5 238.3 545.34 238.3 546.6 237.88 547.44 236.62 547.87 234.52 547.87 233.26 547.44 231.16 546.6 229.9 545.34 229.48 544.5 229.48M553.21 229.48 551.95 229.9 551.11 231.16 550.68 233.26 550.68 234.52 551.11 236.62 551.95 237.88 553.21 238.3 554.04 238.3 555.3 237.88 556.14 236.62 556.57 234.52 556.57 233.26 556.14 231.16 555.3 229.9 554.04 229.48 553.21 229.48" stroke="#fff" stroke-width="1.3"/>
<path d="M577.24 231.16 578.07 230.74 579.33 229.48 579.33 238.3M585.46 229.48 584.2 229.9 583.36 231.16 582.93 233.26 582.93 234.52 583.36 236.62 584.2 237.88 585.46 238.3 586.29 238.3 587.55 237.88 588.39 236.62 588.82 234.52 588.82 233.26 588.39 231.16 587.55 229.9 586.29 229.48 585.46 229.48M592.4 232.42 591.98 232.84 592.4 233.26 592.82 232.84 592.4 232.42M592.4 237.46 591.98 237.88 592.4 238.3 592.82 237.88 592.4 237.46M596.82 229.48 601.44 229.48 598.92 232.84 600.18 232.84 601.02 233.26 601.44 233.68 601.87 234.94 601.87 235.78 601.44 237.04 600.6 237.88 599.34 238.3 598.08 238.3 596.82 237.88 596.4 237.46 595.98 236.62M607.21 229.48 605.95 229.9 605.11 231.16 604.68 233.26 604.68 234.52 605.11 236.62 605.95 237.88 607.21 238.3 608.04 238.3 609.3 237.88 610.14 236.62 610.57 234.52 610.57 233.26 610.14 231.16 609.3 229.9 608.04 229.48 607.21 229.48" stroke="#fff" stroke-width="1.3"/>
<path d="M633.98 231.16 634.81 230.74 636.07 229.48 636.07 238.3M639.2 231.16 640.03 230.74 641.29 229.48 641.29 238.3M645.66 232.42 645.24 232.84 645.66 233.26 646.08 232.84 645.66 232.42M645.66 237.46 645.24 237.88 645.66 238.3 646.08 237.88 645.66 237.46M651.76 229.48 650.5 229.9 649.66 231.16 649.24 233.26 649.24 234.52 649.66 236.62 650.5 237.88 651.76 238.3 652.6 238.3 653.86 237.88 654.7 236.62 655.12 234.52 655.12 233.26 654.7 231.16 653.86 229.9 652.6 229.48 651.76 229.48M660.47 229.48 659.21 229.9 658.37 231.16 657.94 233.26 657.94 234.52 658.37 236.62 659.21 237.88 660.47 238.3 661.3 238.3 662.56 237.88 663.4 236.62 663.83 234.52 663.83 233.26 663.4 231.16 662.56 229.9 661.3 229.48 660.47 229.48" stroke="#fff" stroke-width="1.3"/>
<path d="M687.98 231.16 688.81 230.74 690.07 229.48 690.07 238.3M693.2 231.16 694.03 230.74 695.29 229.48 695.29 238.3M699.66 232.42 699.24 232.84 699.66 233.26 700.08 232.84 699.66 232.42M699.66 237.46 699.24 237.88 699.66 238.3 700.08 237.88 699.66 237.46M704.08 229.48 708.7 229.48 706.18 232.84 707.44 232.84 708.28 233.26 708.7 233.68 709.12 234.94 709.12 235.78 708.7 237.04 707.86 237.88 706.6 238.3 705.34 238.3 704.08 237.88 703.66 237.46 703.24 236.62M714.47 229.48 713.21 229.9 712.37 231.16 711.94 233.26 711.94 234.52 712.37 236.62 713.21 237.88 714.47 238.3 715.3 238.3 716.56 237.88 717.4 236.62 717.83 234.52 717.83 233.26 717.4 231.16 716.56 229.9 715.3 229.48 714.47 229.48" stroke="#fff" stroke-width="1.3"/>
<path d="M741.24 231.16 742.07 230.74 743.33 229.48 743.33 238.3M747.36 231.58 747.36 231.16 747.77 230.32 748.2 229.9 749.03 229.48 750.72 229.48 751.55 229.9 751.98 230.32 752.39 231.16 752.39 232 751.98 232.84 751.13 234.1 746.93 238.3 752.82 238.3M756.4 232.42 755.98 232.84 756.4 233.26 756.82 232.84 756.4 232.42M756.4 237.46 755.98 237.88 756.4 238.3 756.82 237.88 756.4 237.46M762.5 229.48 761.25 229.9 760.4 231.16 759.98 233.26 759.98 234.52 760.4 236.62 761.25 237.88 762.5 238.3 763.34 238.3 764.6 237.88 765.44 236.62 765.87 234.52 765.87 233.26 765.44 231.16 764.6 229.9 763.34 229.48 762.5 229.48M771.21 229.48 769.95 229.9 769.11 231.16 768.68 233.26 768.68 234.52 769.11 236.62 769.95 237.88 771.21 238.3 772.04 238.3 773.3 237.88 774.14 236.62 774.57 234.52 774.57 233.26 774.14 231.16 773.3 229.9 772.04 229.48 771.21 229.48" stroke="#fff" stroke-width="1.3"/>
<path d="M796.24 231.16 797.07 230.74 798.33 229.48 798.33 238.3M802.36 231.58 802.36 231.16 802.77 230.32 803.2 229.9 804.03 229.48 805.72 229.48 806.55 229.9 806.98 230.32 807.39 231.16 807.39 232 806.98 232.84 806.13 234.1 801.93 238.3 807.82 238.3M811.4 232.42 810.98 232.84 811.4 233.26 811.82 232.84 811.4 232.42M811.4 237.46 810.98 237.88 811.4 238.3 811.82 237.88 811.4 237.46M815.82 229.48 820.44 229.48 817.92 232.84 819.18 232.84 820.02 233.26 820.44 233.68 820.87 234.94 820.87 235.78 820.44 237.04 819.6 237.88 818.34 238.3 817.08 238.3 815.82 237.88 815.4 237.46 814.98 236.62M826.21 229.48 824.95 229.9 824.11 231.16 823.68 233.26 823.68 234.52 824.11 236.62 824.95 237.88 826.21 238.3 827.04 238.3 828.3 237.88 829.14 236.62 829.57 234.52 829.57 233.26 829.14 231.16 828.3 229.9 827.04 229.48 826.21 229.48" stroke="#fff" stroke-width="1.3"/>
<path d="M190.25 74.5 190.25 74.25 190.5 73.75 190.75 73.5 191.25 73.25 192.25 73.25 192.75 73.5 193 73.75 193.25 74.25 193.25 74.75 193 75.25 192.5 76 190 78.5 193.5 78.5" stroke="#fff" stroke-width="1.1"/>
<path d="M176.81 78.33 177.63 77.92 178.86 76.69 178.86 85.3M184.84 76.69 183.61 77.1 182.79 78.33 182.38 80.38 182.38 81.61 182.79 83.66 183.61 84.89 184.84 85.3 185.66 85.3 186.89 84.89 187.71 83.66 188.12 81.61 188.12 80.38 187.71 78.33 186.89 77.1 185.66 76.69 184.84 76.69" stroke="#fff" stroke-width="1.3"/>
<path d="M192.25 143.25 192.75 143 193.5 142.25 193.5 147.5" stroke="#fff" stroke-width="1.1"/>
<path d="M179.24 147.33 180.06 146.92 181.29 145.69 181.29 154.3M187.27 145.69 186.04 146.1 185.22 147.33 184.81 149.38 184.81 150.61 185.22 152.66 186.04 153.89 187.27 154.3 188.09 154.3 189.32 153.89 190.14 152.66 190.55 150.61 190.55 149.38 190.14 147.33 189.32 146.1 188.09 145.69 187.27 145.69" stroke="#fff" stroke-width="1.3"/>
<path d="M191.5 211.25 190.75 211.5 190.25 212.25 190 213.5 190 214.25 190.25 215.5 190.75 216.25 191.5 216.5 192 216.5 192.75 216.25 193.25 215.5 193.5 214.25 193.5 213.5 193.25 212.25 192.75 211.5 192 211.25 191.5 211.25" stroke="#fff" stroke-width="1.1"/>
<path d="M176.81 216.33 177.63 215.92 178.86 214.69 178.86 223.3M184.84 214.69 183.61 215.1 182.79 216.33 182.38 218.38 182.38 219.61 182.79 221.66 183.61 222.89 184.84 223.3 185.66 223.3 186.89 222.89 187.71 221.66 188.12 219.61 188.12 218.38 187.71 216.33 186.89 215.1 185.66 214.69 184.84 214.69" stroke="#fff" stroke-width="1.3"/>
<path d="M58.31 204.2 69.5 204.2M58.31 204.2 58.31 197.27M63.64 204.2 63.64 199.94M69.5 204.2 69.5 197.27M58.31 193.97 69.5 193.97M65.24 190.14 65.24 183.74 64.17 183.74 63.1 184.28 62.57 184.81 62.04 185.88 62.04 187.47 62.57 188.54 63.64 189.61 65.24 190.14 66.3 190.14 67.9 189.61 68.97 188.54 69.5 187.47 69.5 185.88 68.97 184.81 67.9 183.74M63.64 174.01 62.57 175.07 62.04 176.14 62.04 177.74 62.57 178.81 63.64 179.87 65.24 180.4 66.3 180.4 67.9 179.87 68.97 178.81 69.5 177.74 69.5 176.14 68.97 175.07 67.9 174.01M58.31 169.64 67.37 169.64 68.97 169.1 69.5 168.04 69.5 166.97M62.04 171.23 62.04 167.5M62.04 163.66 69.5 163.66M65.24 163.66 63.64 163.13 62.57 162.06 62.04 161 62.04 159.4M62.04 154.48 62.57 155.55 63.64 156.62 65.24 157.15 66.3 157.15 67.9 156.62 68.97 155.55 69.5 154.48 69.5 152.89 68.97 151.82 67.9 150.75 66.3 150.22 65.24 150.22 63.64 150.75 62.57 151.82 62.04 152.89 62.04 154.48M62.04 146.34 69.5 146.34M64.17 146.34 62.57 144.74 62.04 143.68 62.04 142.08 62.57 141.01 64.17 140.48 69.5 140.48M58.31 127.41 69.5 127.41M58.31 127.41 58.31 120.48M63.64 127.41 63.64 123.14M69.5 127.41 69.5 120.48M62.04 117.14 69.5 117.14M64.17 117.14 62.57 115.54 62.04 114.47 62.04 112.87 62.57 111.81 64.17 111.27 69.5 111.27M65.24 107.4 65.24 101 64.17 101 63.1 101.53 62.57 102.07 62.04 103.13 62.04 104.73 62.57 105.8 63.64 106.86 65.24 107.4 66.3 107.4 67.9 106.86 68.97 105.8 69.5 104.73 69.5 103.13 68.97 102.07 67.9 101M62.04 97.14 69.5 97.14M65.24 97.14 63.64 96.61 62.57 95.54 62.04 94.48 62.04 92.88M62.04 84.23 70.57 84.23 72.17 84.77 72.7 85.3 73.23 86.37 73.23 87.97 72.7 89.03M63.64 84.23 62.57 85.3 62.04 86.37 62.04 87.97 62.57 89.03 63.64 90.1 65.24 90.63 66.3 90.63 67.9 90.1 68.97 89.03 69.5 87.97 69.5 86.37 68.97 85.3 67.9 84.23M62.04 80.9 69.5 77.7M62.04 74.5 69.5 77.7 71.63 78.76 72.7 79.83 73.23 80.9 73.23 81.43" stroke="#fff" stroke-width="1.3"/>
<path d="M76.5 153 77.5 154 79 155 81 156 83.5 156.5 85.5 156.5 88 156 90 155 91.5 154 92.5 153M85 148.66 85 142.66 84 142.66 83 143.16 82.5 143.66 82 144.66 82 146.16 82.5 147.16 83.5 148.16 85 148.66 86 148.66 87.5 148.16 88.5 147.16 89 146.16 89 144.66 88.5 143.66 87.5 142.66M78.5 139.14 89 135.14M78.5 131.14 89 135.14M76.5 127.8 77.5 126.8 79 125.8 81 124.8 83.5 124.3 85.5 124.3 88 124.8 90 125.8 91.5 126.8 92.5 127.8" stroke="#fff" stroke-width="1.3"/>
<path d="M852.4 47.54 852.4 59.3M852.4 47.54 856.32 47.54 858 48.1 859.12 49.22 859.68 50.34 860.24 52.02 860.24 54.82 859.68 56.5 859.12 57.62 858 58.74 856.32 59.3 852.4 59.3M864.38 47.54 864.38 59.3M864.38 47.54 871.66 47.54M864.38 53.14 868.86 53.14M864.38 59.3 871.66 59.3M875.22 47.54 875.22 59.3M875.22 47.54 882.5 47.54M875.22 53.14 879.7 53.14" stroke="#fff" stroke-width="1.3"/>
<path d="M895.4 72.71 896.55 72.13 898.28 70.4 898.28 82.5M906.25 70.4 904.52 70.98 903.37 72.71 902.79 75.59 902.79 77.32 903.37 80.2 904.52 81.92 906.25 82.5 907.4 82.5 909.13 81.92 910.28 80.2 910.86 77.32 910.86 75.59 910.28 72.71 909.13 70.98 907.4 70.4 906.25 70.4" stroke="#fff" stroke-width="1.3"/>
<path d="M914.50 70.10L918.30 70.10" stroke="#fff" stroke-width="1.2"/>
<path d="M923.06 65.57 926.69 65.57 924.71 68.21 925.7 68.21 926.36 68.54 926.69 68.87 927.02 69.86 927.02 70.52 926.69 71.51 926.03 72.17 925.04 72.5 924.05 72.5 923.06 72.17 922.73 71.84 922.4 71.18" stroke="#fff" stroke-width="1.1"/>
<path d="M895.4 115.21 896.55 114.63 898.28 112.9 898.28 125M906.25 112.9 904.52 113.48 903.37 115.21 902.79 118.09 902.79 119.82 903.37 122.7 904.52 124.42 906.25 125 907.4 125 909.13 124.42 910.28 122.7 910.86 119.82 910.86 118.09 910.28 115.21 909.13 113.48 907.4 112.9 906.25 112.9" stroke="#fff" stroke-width="1.3"/>
<path d="M914.50 112.60L918.30 112.60" stroke="#fff" stroke-width="1.2"/>
<path d="M925.7 108.07 922.4 112.69 927.35 112.69M925.7 108.07 925.7 115" stroke="#fff" stroke-width="1.1"/>
<path d="M895.4 157.71 896.55 157.13 898.28 155.4 898.28 167.5M906.25 155.4 904.52 155.98 903.37 157.71 902.79 160.59 902.79 162.32 903.37 165.2 904.52 166.92 906.25 167.5 907.4 167.5 909.13 166.92 910.28 165.2 910.86 162.32 910.86 160.59 910.28 157.71 909.13 155.98 907.4 155.4 906.25 155.4" stroke="#fff" stroke-width="1.3"/>
<path d="M914.50 155.10L918.30 155.10" stroke="#fff" stroke-width="1.2"/>
<path d="M926.36 150.57 923.06 150.57 922.73 153.54 923.06 153.21 924.05 152.88 925.04 152.88 926.03 153.21 926.69 153.87 927.02 154.86 927.02 155.52 926.69 156.51 926.03 157.17 925.04 157.5 924.05 157.5 923.06 157.17 922.73 156.84 922.4 156.18" stroke="#fff" stroke-width="1.1"/>
<path d="M895.4 199.71 896.55 199.13 898.28 197.4 898.28 209.5M906.25 197.4 904.52 197.98 903.37 199.71 902.79 202.59 902.79 204.32 903.37 207.2 904.52 208.92 906.25 209.5 907.4 209.5 909.13 208.92 910.28 207.2 910.86 204.32 910.86 202.59 910.28 199.71 909.13 197.98 907.4 197.4 906.25 197.4" stroke="#fff" stroke-width="1.3"/>
<path d="M914.50 197.10L918.30 197.10" stroke="#fff" stroke-width="1.2"/>
<path d="M926.36 193.56 926.03 192.9 925.04 192.57 924.38 192.57 923.39 192.9 922.73 193.89 922.4 195.54 922.4 197.19 922.73 198.51 923.39 199.17 924.38 199.5 924.71 199.5 925.7 199.17 926.36 198.51 926.69 197.52 926.69 197.19 926.36 196.2 925.7 195.54 924.71 195.21 924.38 195.21 923.39 195.54 922.73 196.2 922.4 197.19" stroke="#fff" stroke-width="1.1"/>
<path d="M124.6 460.68 124.18 459.84 123.34 459 122.5 458.58 120.82 458.58 119.98 459 119.14 459.84 118.72 460.68 118.3 461.94 118.3 464.04 118.72 465.3 119.14 466.14 119.98 466.98 120.82 467.4 122.5 467.4 123.34 466.98 124.18 466.14 124.6 465.3 124.6 464.04M122.5 464.04 124.6 464.04M128.24 458.58 128.24 467.4M128.24 458.58 131.6 467.4M134.96 458.58 131.6 467.4M134.96 458.58 134.96 467.4M140.61 458.58 140.61 467.4M137.67 458.58 143.55 458.58M149.04 456.9 148.2 457.74 147.36 459 146.52 460.68 146.1 462.78 146.1 464.46 146.52 466.56 147.36 468.24 148.2 469.5 149.04 470.34M152.65 461.52 152.65 467.4M152.65 463.2 153.91 461.94 154.75 461.52 156.01 461.52 156.85 461.94 157.27 463.2 157.27 467.4M157.27 463.2 158.53 461.94 159.37 461.52 160.63 461.52 161.47 461.94 161.89 463.2 161.89 467.4M165.41 458.58 165.83 459 166.25 458.58 165.83 458.16 165.41 458.58M165.83 461.52 165.83 467.4M169.58 461.52 169.58 467.4M169.58 463.2 170.84 461.94 171.68 461.52 172.94 461.52 173.78 461.94 174.2 463.2 174.2 467.4M177.66 456.9 178.5 457.74 179.34 459 180.18 460.68 180.6 462.78 180.6 464.46 180.18 466.56 179.34 468.24 178.5 469.5 177.66 470.34" stroke="#fff" stroke-width="1.6"/>
<path d="M196.26 458.58 195 459 194.16 460.26 193.74 462.36 193.74 463.62 194.16 465.72 195 466.98 196.26 467.4 197.09 467.4 198.36 466.98 199.2 465.72 199.62 463.62 199.62 462.36 199.2 460.26 198.36 459 197.09 458.58 196.26 458.58M208.32 458.58 204.12 467.4M202.44 458.58 208.32 458.58M211.9 461.52 211.48 461.94 211.9 462.36 212.32 461.94 211.9 461.52M211.9 466.56 211.48 466.98 211.9 467.4 212.32 466.98 211.9 466.56M218.01 458.58 216.75 459 215.91 460.26 215.49 462.36 215.49 463.62 215.91 465.72 216.75 466.98 218.01 467.4 218.84 467.4 220.11 466.98 220.95 465.72 221.37 463.62 221.37 462.36 220.95 460.26 220.11 459 218.84 458.58 218.01 458.58M226.71 458.58 225.44 459 224.6 460.26 224.19 462.36 224.19 463.62 224.6 465.72 225.44 466.98 226.71 467.4 227.54 467.4 228.81 466.98 229.65 465.72 230.06 463.62 230.06 462.36 229.65 460.26 228.81 459 227.54 458.58 226.71 458.58" stroke="#fff" stroke-width="1.3"/>
<path d="M250.25 458.58 248.99 459 248.15 460.26 247.73 462.36 247.73 463.62 248.15 465.72 248.99 466.98 250.25 467.4 251.09 467.4 252.35 466.98 253.19 465.72 253.61 463.62 253.61 462.36 253.19 460.26 252.35 459 251.09 458.58 250.25 458.58M262.31 458.58 258.12 467.4M256.44 458.58 262.31 458.58M265.9 461.52 265.48 461.94 265.9 462.36 266.32 461.94 265.9 461.52M265.9 466.56 265.48 466.98 265.9 467.4 266.32 466.98 265.9 466.56M270.32 458.58 274.94 458.58 272.43 461.94 273.69 461.94 274.53 462.36 274.94 462.78 275.37 464.04 275.37 464.88 274.94 466.14 274.11 466.98 272.85 467.4 271.59 467.4 270.32 466.98 269.91 466.56 269.49 465.72M280.7 458.58 279.44 459 278.61 460.26 278.19 462.36 278.19 463.62 278.61 465.72 279.44 466.98 280.7 467.4 281.55 467.4 282.81 466.98 283.64 465.72 284.06 463.62 284.06 462.36 283.64 460.26 282.81 459 281.55 458.58 280.7 458.58" stroke="#fff" stroke-width="1.3"/>
<path d="M305.25 458.58 304 459 303.16 460.26 302.74 462.36 302.74 463.62 303.16 465.72 304 466.98 305.25 467.4 306.1 467.4 307.36 466.98 308.19 465.72 308.62 463.62 308.62 462.36 308.19 460.26 307.36 459 306.1 458.58 305.25 458.58M313.54 458.58 312.27 459 311.86 459.84 311.86 460.68 312.27 461.52 313.12 461.94 314.8 462.36 316.06 462.78 316.89 463.62 317.31 464.46 317.31 465.72 316.89 466.56 316.48 466.98 315.21 467.4 313.54 467.4 312.27 466.98 311.86 466.56 311.44 465.72 311.44 464.46 311.86 463.62 312.69 462.78 313.95 462.36 315.63 461.94 316.48 461.52 316.89 460.68 316.89 459.84 316.48 459 315.21 458.58 313.54 458.58M320.9 461.52 320.48 461.94 320.9 462.36 321.32 461.94 320.9 461.52M320.9 466.56 320.48 466.98 320.9 467.4 321.32 466.98 320.9 466.56M327 458.58 325.75 459 324.91 460.26 324.49 462.36 324.49 463.62 324.91 465.72 325.75 466.98 327 467.4 327.85 467.4 329.11 466.98 329.94 465.72 330.37 463.62 330.37 462.36 329.94 460.26 329.11 459 327.85 458.58 327 458.58M335.7 458.58 334.44 459 333.61 460.26 333.19 462.36 333.19 463.62 333.61 465.72 334.44 466.98 335.7 467.4 336.55 467.4 337.81 466.98 338.64 465.72 339.06 463.62 339.06 462.36 338.64 460.26 337.81 459 336.55 458.58 335.7 458.58" stroke="#fff" stroke-width="1.3"/>
<path d="M360.25 458.58 359 459 358.16 460.26 357.74 462.36 357.74 463.62 358.16 465.72 359 466.98 360.25 467.4 361.1 467.4 362.36 466.98 363.19 465.72 363.62 463.62 363.62 462.36 363.19 460.26 362.36 459 361.1 458.58 360.25 458.58M368.54 458.58 367.27 459 366.86 459.84 366.86 460.68 367.27 461.52 368.12 461.94 369.8 462.36 371.06 462.78 371.89 463.62 372.31 464.46 372.31 465.72 371.89 466.56 371.48 466.98 370.21 467.4 368.54 467.4 367.27 466.98 366.86 466.56 366.44 465.72 366.44 464.46 366.86 463.62 367.69 462.78 368.95 462.36 370.63 461.94 371.48 461.52 371.89 460.68 371.89 459.84 371.48 459 370.21 458.58 368.54 458.58M375.9 461.52 375.48 461.94 375.9 462.36 376.32 461.94 375.9 461.52M375.9 466.56 375.48 466.98 375.9 467.4 376.32 466.98 375.9 466.56M380.32 458.58 384.94 458.58 382.43 461.94 383.69 461.94 384.53 462.36 384.94 462.78 385.37 464.04 385.37 464.88 384.94 466.14 384.11 466.98 382.85 467.4 381.59 467.4 380.32 466.98 379.91 466.56 379.49 465.72M390.7 458.58 389.44 459 388.61 460.26 388.19 462.36 388.19 463.62 388.61 465.72 389.44 466.98 390.7 467.4 391.55 467.4 392.81 466.98 393.64 465.72 394.06 463.62 394.06 462.36 393.64 460.26 392.81 459 391.55 458.58 390.7 458.58" stroke="#fff" stroke-width="1.3"/>
<path d="M414.25 458.58 413 459 412.16 460.26 411.74 462.36 411.74 463.62 412.16 465.72 413 466.98 414.25 467.4 415.1 467.4 416.36 466.98 417.19 465.72 417.62 463.62 417.62 462.36 417.19 460.26 416.36 459 415.1 458.58 414.25 458.58M425.89 461.52 425.48 462.78 424.63 463.62 423.38 464.04 422.95 464.04 421.69 463.62 420.86 462.78 420.44 461.52 420.44 461.1 420.86 459.84 421.69 459 422.95 458.58 423.38 458.58 424.63 459 425.48 459.84 425.89 461.52 425.89 463.62 425.48 465.72 424.63 466.98 423.38 467.4 422.54 467.4 421.27 466.98 420.86 466.14M429.9 461.52 429.48 461.94 429.9 462.36 430.32 461.94 429.9 461.52M429.9 466.56 429.48 466.98 429.9 467.4 430.32 466.98 429.9 466.56M436 458.58 434.75 459 433.91 460.26 433.49 462.36 433.49 463.62 433.91 465.72 434.75 466.98 436 467.4 436.85 467.4 438.11 466.98 438.94 465.72 439.37 463.62 439.37 462.36 438.94 460.26 438.11 459 436.85 458.58 436 458.58M444.7 458.58 443.44 459 442.61 460.26 442.19 462.36 442.19 463.62 442.61 465.72 443.44 466.98 444.7 467.4 445.55 467.4 446.81 466.98 447.64 465.72 448.06 463.62 448.06 462.36 447.64 460.26 446.81 459 445.55 458.58 444.7 458.58" stroke="#fff" stroke-width="1.3"/>
<path d="M469.25 458.58 468 459 467.16 460.26 466.74 462.36 466.74 463.62 467.16 465.72 468 466.98 469.25 467.4 470.1 467.4 471.36 466.98 472.19 465.72 472.62 463.62 472.62 462.36 472.19 460.26 471.36 459 470.1 458.58 469.25 458.58M480.89 461.52 480.48 462.78 479.63 463.62 478.38 464.04 477.95 464.04 476.69 463.62 475.86 462.78 475.44 461.52 475.44 461.1 475.86 459.84 476.69 459 477.95 458.58 478.38 458.58 479.63 459 480.48 459.84 480.89 461.52 480.89 463.62 480.48 465.72 479.63 466.98 478.38 467.4 477.54 467.4 476.27 466.98 475.86 466.14M484.9 461.52 484.48 461.94 484.9 462.36 485.32 461.94 484.9 461.52M484.9 466.56 484.48 466.98 484.9 467.4 485.32 466.98 484.9 466.56M489.32 458.58 493.94 458.58 491.43 461.94 492.69 461.94 493.53 462.36 493.94 462.78 494.37 464.04 494.37 464.88 493.94 466.14 493.11 466.98 491.85 467.4 490.59 467.4 489.32 466.98 488.91 466.56 488.49 465.72M499.7 458.58 498.44 459 497.61 460.26 497.19 462.36 497.19 463.62 497.61 465.72 498.44 466.98 499.7 467.4 500.55 467.4 501.81 466.98 502.64 465.72 503.06 463.62 503.06 462.36 502.64 460.26 501.81 459 500.55 458.58 499.7 458.58" stroke="#fff" stroke-width="1.3"/>
<path d="M523.24 460.26 524.07 459.84 525.33 458.58 525.33 467.4M531.46 458.58 530.2 459 529.36 460.26 528.93 462.36 528.93 463.62 529.36 465.72 530.2 466.98 531.46 467.4 532.29 467.4 533.55 466.98 534.39 465.72 534.82 463.62 534.82 462.36 534.39 460.26 533.55 459 532.29 458.58 531.46 458.58M538.4 461.52 537.98 461.94 538.4 462.36 538.82 461.94 538.4 461.52M538.4 466.56 537.98 466.98 538.4 467.4 538.82 466.98 538.4 466.56M544.5 458.58 543.25 459 542.4 460.26 541.98 462.36 541.98 463.62 542.4 465.72 543.25 466.98 544.5 467.4 545.34 467.4 546.6 466.98 547.44 465.72 547.87 463.62 547.87 462.36 547.44 460.26 546.6 459 545.34 458.58 544.5 458.58M553.21 458.58 551.95 459 551.11 460.26 550.68 462.36 550.68 463.62 551.11 465.72 551.95 466.98 553.21 467.4 554.04 467.4 555.3 466.98 556.14 465.72 556.57 463.62 556.57 462.36 556.14 460.26 555.3 459 554.04 458.58 553.21 458.58" stroke="#fff" stroke-width="1.3"/>
<path d="M577.24 460.26 578.07 459.84 579.33 458.58 579.33 467.4M585.46 458.58 584.2 459 583.36 460.26 582.93 462.36 582.93 463.62 583.36 465.72 584.2 466.98 585.46 467.4 586.29 467.4 587.55 466.98 588.39 465.72 588.82 463.62 588.82 462.36 588.39 460.26 587.55 459 586.29 458.58 585.46 458.58M592.4 461.52 591.98 461.94 592.4 462.36 592.82 461.94 592.4 461.52M592.4 466.56 591.98 466.98 592.4 467.4 592.82 466.98 592.4 466.56M596.82 458.58 601.44 458.58 598.92 461.94 600.18 461.94 601.02 462.36 601.44 462.78 601.87 464.04 601.87 464.88 601.44 466.14 600.6 466.98 599.34 467.4 598.08 467.4 596.82 466.98 596.4 466.56 595.98 465.72M607.21 458.58 605.95 459 605.11 460.26 604.68 462.36 604.68 463.62 605.11 465.72 605.95 466.98 607.21 467.4 608.04 467.4 609.3 466.98 610.14 465.72 610.57 463.62 610.57 462.36 610.14 460.26 609.3 459 608.04 458.58 607.21 458.58" stroke="#fff" stroke-width="1.3"/>
<path d="M633.98 460.26 634.81 459.84 636.07 458.58 636.07 467.4M639.2 460.26 640.03 459.84 641.29 458.58 641.29 467.4M645.66 461.52 645.24 461.94 645.66 462.36 646.08 461.94 645.66 461.52M645.66 466.56 645.24 466.98 645.66 467.4 646.08 466.98 645.66 466.56M651.76 458.58 650.5 459 649.66 460.26 649.24 462.36 649.24 463.62 649.66 465.72 650.5 466.98 651.76 467.4 652.6 467.4 653.86 466.98 654.7 465.72 655.12 463.62 655.12 462.36 654.7 460.26 653.86 459 652.6 458.58 651.76 458.58M660.47 458.58 659.21 459 658.37 460.26 657.94 462.36 657.94 463.62 658.37 465.72 659.21 466.98 660.47 467.4 661.3 467.4 662.56 466.98 663.4 465.72 663.83 463.62 663.83 462.36 663.4 460.26 662.56 459 661.3 458.58 660.47 458.58" stroke="#fff" stroke-width="1.3"/>
<path d="M687.98 460.26 688.81 459.84 690.07 458.58 690.07 467.4M693.2 460.26 694.03 459.84 695.29 458.58 695.29 467.4M699.66 461.52 699.24 461.94 699.66 462.36 700.08 461.94 699.66 461.52M699.66 466.56 699.24 466.98 699.66 467.4 700.08 466.98 699.66 466.56M704.08 458.58 708.7 458.58 706.18 461.94 707.44 461.94 708.28 462.36 708.7 462.78 709.12 464.04 709.12 464.88 708.7 466.14 707.86 466.98 706.6 467.4 705.34 467.4 704.08 466.98 703.66 466.56 703.24 465.72M714.47 458.58 713.21 459 712.37 460.26 711.94 462.36 711.94 463.62 712.37 465.72 713.21 466.98 714.47 467.4 715.3 467.4 716.56 466.98 717.4 465.72 717.83 463.62 717.83 462.36 717.4 460.26 716.56 459 715.3 458.58 714.47 458.58" stroke="#fff" stroke-width="1.3"/>
<path d="M741.24 460.26 742.07 459.84 743.33 458.58 743.33 467.4M747.36 460.68 747.36 460.26 747.77 459.42 748.2 459 749.03 458.58 750.72 458.58 751.55 459 751.98 459.42 752.39 460.26 752.39 461.1 751.98 461.94 751.13 463.2 746.93 467.4 752.82 467.4M756.4 461.52 755.98 461.94 756.4 462.36 756.82 461.94 756.4 461.52M756.4 466.56 755.98 466.98 756.4 467.4 756.82 466.98 756.4 466.56M762.5 458.58 761.25 459 760.4 460.26 759.98 462.36 759.98 463.62 760.4 465.72 761.25 466.98 762.5 467.4 763.34 467.4 764.6 466.98 765.44 465.72 765.87 463.62 765.87 462.36 765.44 460.26 764.6 459 763.34 458.58 762.5 458.58M771.21 458.58 769.95 459 769.11 460.26 768.68 462.36 768.68 463.62 769.11 465.72 769.95 466.98 771.21 467.4 772.04 467.4 773.3 466.98 774.14 465.72 774.57 463.62 774.57 462.36 774.14 460.26 773.3 459 772.04 458.58 771.21 458.58" stroke="#fff" stroke-width="1.3"/>
<path d="M796.24 460.26 797.07 459.84 798.33 458.58 798.33 467.4M802.36 460.68 802.36 460.26 802.77 459.42 803.2 459 804.03 458.58 805.72 458.58 806.55 459 806.98 459.42 807.39 460.26 807.39 461.1 806.98 461.94 806.13 463.2 801.93 467.4 807.82 467.4M811.4 461.52 810.98 461.94 811.4 462.36 811.82 461.94 811.4 461.52M811.4 466.56 810.98 466.98 811.4 467.4 811.82 466.98 811.4 466.56M815.82 458.58 820.44 458.58 817.92 461.94 819.18 461.94 820.02 462.36 820.44 462.78 820.87 464.04 820.87 464.88 820.44 466.14 819.6 466.98 818.34 467.4 817.08 467.4 815.82 466.98 815.4 466.56 814.98 465.72M826.21 458.58 824.95 459 824.11 460.26 823.68 462.36 823.68 463.62 824.11 465.72 824.95 466.98 826.21 467.4 827.04 467.4 828.3 466.98 829.14 465.72 829.57 463.62 829.57 462.36 829.14 460.26 828.3 459 827.04 458.58 826.21 458.58" stroke="#fff" stroke-width="1.3"/>
<path d="M75.38 259.98 75.38 268.8M75.38 259.98 80.84 259.98M75.38 264.18 78.74 264.18M75.38 268.8 80.84 268.8M83.74 259.98 83.74 268.8M83.74 268.8 88.78 268.8M96.68 261.24 95.84 260.4 94.58 259.98 92.9 259.98 91.64 260.4 90.8 261.24 90.8 262.08 91.22 262.92 91.64 263.34 92.48 263.76 95 264.6 95.84 265.02 96.26 265.44 96.68 266.28 96.68 267.54 95.84 268.38 94.58 268.8 92.9 268.8 91.64 268.38 90.8 267.54M100.69 265.02 106.15 265.02M109.66 261.66 110.5 261.24 111.76 259.98 111.76 268.8M114.94 261.66 115.78 261.24 117.04 259.98 117.04 268.8M128.2 259.98 128.2 268.8M128.2 259.98 131.98 259.98 133.24 260.4 133.66 260.82 134.08 261.66 134.08 262.92 133.66 263.76 133.24 264.18 131.98 264.6 128.2 264.6M136.88 259.98 137.3 260.4 137.72 259.98 137.3 259.56 136.88 259.98M137.3 262.92 137.3 268.8M141.26 259.98 141.26 267.12 141.68 268.38 142.52 268.8 143.36 268.8M140 262.92 142.94 262.92M150.82 264.18 149.98 263.34 149.14 262.92 147.88 262.92 147.04 263.34 146.2 264.18 145.78 265.44 145.78 266.28 146.2 267.54 147.04 268.38 147.88 268.8 149.14 268.8 149.98 268.38 150.82 267.54M154.12 259.98 154.12 268.8M154.12 264.6 155.38 263.34 156.22 262.92 157.48 262.92 158.32 263.34 158.74 264.6 158.74 268.8M171.62 259.98 168.26 268.8M171.62 259.98 174.98 268.8M169.52 265.86 173.72 265.86M177.44 262.92 177.44 268.8M177.44 264.6 178.7 263.34 179.54 262.92 180.8 262.92 181.64 263.34 182.06 264.6 182.06 268.8M190.42 262.92 190.42 269.64 190 270.9 189.58 271.32 188.74 271.74 187.48 271.74 186.64 271.32M190.42 264.18 189.58 263.34 188.74 262.92 187.48 262.92 186.64 263.34 185.8 264.18 185.38 265.44 185.38 266.28 185.8 267.54 186.64 268.38 187.48 268.8 188.74 268.8 189.58 268.38 190.42 267.54M194.06 259.98 194.06 268.8M197.26 265.44 202.3 265.44 202.3 264.6 201.88 263.76 201.46 263.34 200.62 262.92 199.36 262.92 198.52 263.34 197.68 264.18 197.26 265.44 197.26 266.28 197.68 267.54 198.52 268.38 199.36 268.8 200.62 268.8 201.46 268.38 202.3 267.54" stroke="#fff" stroke-width="1.3"/>
<path d="M71.86 277.51 71.86 286.33M71.86 277.51 77.32 277.51M71.86 281.71 75.22 281.71M71.86 286.33 77.32 286.33M80.22 277.51 80.22 286.33M80.22 286.33 85.26 286.33M93.16 278.77 92.32 277.93 91.06 277.51 89.38 277.51 88.12 277.93 87.28 278.77 87.28 279.61 87.7 280.45 88.12 280.87 88.96 281.29 91.48 282.13 92.32 282.55 92.74 282.97 93.16 283.81 93.16 285.07 92.32 285.91 91.06 286.33 89.38 286.33 88.12 285.91 87.28 285.07M97.17 282.55 102.63 282.55M106.14 279.19 106.98 278.77 108.24 277.51 108.24 286.33M114.44 277.51 113.18 277.93 112.34 279.19 111.92 281.29 111.92 282.55 112.34 284.65 113.18 285.91 114.44 286.33 115.28 286.33 116.54 285.91 117.38 284.65 117.8 282.55 117.8 281.29 117.38 279.19 116.54 277.93 115.28 277.51 114.44 277.51M128.2 277.51 128.2 286.33M128.2 277.51 131.98 277.51 133.24 277.93 133.66 278.35 134.08 279.19 134.08 280.45 133.66 281.29 133.24 281.71 131.98 282.13 128.2 282.13M136.88 277.51 137.3 277.93 137.72 277.51 137.3 277.09 136.88 277.51M137.3 280.45 137.3 286.33M141.26 277.51 141.26 284.65 141.68 285.91 142.52 286.33 143.36 286.33M140 280.45 142.94 280.45M150.82 281.71 149.98 280.87 149.14 280.45 147.88 280.45 147.04 280.87 146.2 281.71 145.78 282.97 145.78 283.81 146.2 285.07 147.04 285.91 147.88 286.33 149.14 286.33 149.98 285.91 150.82 285.07M154.12 277.51 154.12 286.33M154.12 282.13 155.38 280.87 156.22 280.45 157.48 280.45 158.32 280.87 158.74 282.13 158.74 286.33M171.62 277.51 168.26 286.33M171.62 277.51 174.98 286.33M169.52 283.39 173.72 283.39M177.44 280.45 177.44 286.33M177.44 282.13 178.7 280.87 179.54 280.45 180.8 280.45 181.64 280.87 182.06 282.13 182.06 286.33M190.42 280.45 190.42 287.17 190 288.43 189.58 288.85 188.74 289.27 187.48 289.27 186.64 288.85M190.42 281.71 189.58 280.87 188.74 280.45 187.48 280.45 186.64 280.87 185.8 281.71 185.38 282.97 185.38 283.81 185.8 285.07 186.64 285.91 187.48 286.33 188.74 286.33 189.58 285.91 190.42 285.07M194.06 277.51 194.06 286.33M197.26 282.97 202.3 282.97 202.3 282.13 201.88 281.29 201.46 280.87 200.62 280.45 199.36 280.45 198.52 280.87 197.68 281.71 197.26 282.97 197.26 283.81 197.68 285.07 198.52 285.91 199.36 286.33 200.62 286.33 201.46 285.91 202.3 285.07" stroke="#fff" stroke-width="1.3"/>
<path d="M68.34 295.04 68.34 303.86M68.34 295.04 73.8 295.04M68.34 299.24 71.7 299.24M68.34 303.86 73.8 303.86M76.7 295.04 76.7 303.86M76.7 303.86 81.74 303.86M89.64 296.3 88.8 295.46 87.54 295.04 85.86 295.04 84.6 295.46 83.76 296.3 83.76 297.14 84.18 297.98 84.6 298.4 85.44 298.82 87.96 299.66 88.8 300.08 89.22 300.5 89.64 301.34 89.64 302.6 88.8 303.44 87.54 303.86 85.86 303.86 84.6 303.44 83.76 302.6M93.65 300.08 99.11 300.08M105.64 295.04 104.38 295.46 103.54 296.72 103.12 298.82 103.12 300.08 103.54 302.18 104.38 303.44 105.64 303.86 106.48 303.86 107.74 303.44 108.58 302.18 109 300.08 109 298.82 108.58 296.72 107.74 295.46 106.48 295.04 105.64 295.04M117.38 297.98 116.96 299.24 116.12 300.08 114.86 300.5 114.44 300.5 113.18 300.08 112.34 299.24 111.92 297.98 111.92 297.56 112.34 296.3 113.18 295.46 114.44 295.04 114.86 295.04 116.12 295.46 116.96 296.3 117.38 297.98 117.38 300.08 116.96 302.18 116.12 303.44 114.86 303.86 114.02 303.86 112.76 303.44 112.34 302.6M128.2 295.04 128.2 303.86M128.2 295.04 131.98 295.04 133.24 295.46 133.66 295.88 134.08 296.72 134.08 297.98 133.66 298.82 133.24 299.24 131.98 299.66 128.2 299.66M136.88 295.04 137.3 295.46 137.72 295.04 137.3 294.62 136.88 295.04M137.3 297.98 137.3 303.86M141.26 295.04 141.26 302.18 141.68 303.44 142.52 303.86 143.36 303.86M140 297.98 142.94 297.98M150.82 299.24 149.98 298.4 149.14 297.98 147.88 297.98 147.04 298.4 146.2 299.24 145.78 300.5 145.78 301.34 146.2 302.6 147.04 303.44 147.88 303.86 149.14 303.86 149.98 303.44 150.82 302.6M154.12 295.04 154.12 303.86M154.12 299.66 155.38 298.4 156.22 297.98 157.48 297.98 158.32 298.4 158.74 299.66 158.74 303.86M171.62 295.04 168.26 303.86M171.62 295.04 174.98 303.86M169.52 300.92 173.72 300.92M177.44 297.98 177.44 303.86M177.44 299.66 178.7 298.4 179.54 297.98 180.8 297.98 181.64 298.4 182.06 299.66 182.06 303.86M190.42 297.98 190.42 304.7 190 305.96 189.58 306.38 188.74 306.8 187.48 306.8 186.64 306.38M190.42 299.24 189.58 298.4 188.74 297.98 187.48 297.98 186.64 298.4 185.8 299.24 185.38 300.5 185.38 301.34 185.8 302.6 186.64 303.44 187.48 303.86 188.74 303.86 189.58 303.44 190.42 302.6M194.06 295.04 194.06 303.86M197.26 300.5 202.3 300.5 202.3 299.66 201.88 298.82 201.46 298.4 200.62 297.98 199.36 297.98 198.52 298.4 197.68 299.24 197.26 300.5 197.26 301.34 197.68 302.6 198.52 303.44 199.36 303.86 200.62 303.86 201.46 303.44 202.3 302.6" stroke="#fff" stroke-width="1.3"/>
<path d="M68.34 312.57 68.34 321.39M68.34 312.57 73.8 312.57M68.34 316.77 71.7 316.77M68.34 321.39 73.8 321.39M76.7 312.57 76.7 321.39M76.7 321.39 81.74 321.39M89.64 313.83 88.8 312.99 87.54 312.57 85.86 312.57 84.6 312.99 83.76 313.83 83.76 314.67 84.18 315.51 84.6 315.93 85.44 316.35 87.96 317.19 88.8 317.61 89.22 318.03 89.64 318.87 89.64 320.13 88.8 320.97 87.54 321.39 85.86 321.39 84.6 320.97 83.76 320.13M93.65 317.61 99.11 317.61M105.64 312.57 104.38 312.99 103.54 314.25 103.12 316.35 103.12 317.61 103.54 319.71 104.38 320.97 105.64 321.39 106.48 321.39 107.74 320.97 108.58 319.71 109 317.61 109 316.35 108.58 314.25 107.74 312.99 106.48 312.57 105.64 312.57M114.02 312.57 112.76 312.99 112.34 313.83 112.34 314.67 112.76 315.51 113.6 315.93 115.28 316.35 116.54 316.77 117.38 317.61 117.8 318.45 117.8 319.71 117.38 320.55 116.96 320.97 115.7 321.39 114.02 321.39 112.76 320.97 112.34 320.55 111.92 319.71 111.92 318.45 112.34 317.61 113.18 316.77 114.44 316.35 116.12 315.93 116.96 315.51 117.38 314.67 117.38 313.83 116.96 312.99 115.7 312.57 114.02 312.57M128.2 312.57 128.2 321.39M128.2 312.57 131.98 312.57 133.24 312.99 133.66 313.41 134.08 314.25 134.08 315.51 133.66 316.35 133.24 316.77 131.98 317.19 128.2 317.19M136.88 312.57 137.3 312.99 137.72 312.57 137.3 312.15 136.88 312.57M137.3 315.51 137.3 321.39M141.26 312.57 141.26 319.71 141.68 320.97 142.52 321.39 143.36 321.39M140 315.51 142.94 315.51M150.82 316.77 149.98 315.93 149.14 315.51 147.88 315.51 147.04 315.93 146.2 316.77 145.78 318.03 145.78 318.87 146.2 320.13 147.04 320.97 147.88 321.39 149.14 321.39 149.98 320.97 150.82 320.13M154.12 312.57 154.12 321.39M154.12 317.19 155.38 315.93 156.22 315.51 157.48 315.51 158.32 315.93 158.74 317.19 158.74 321.39M171.62 312.57 168.26 321.39M171.62 312.57 174.98 321.39M169.52 318.45 173.72 318.45M177.44 315.51 177.44 321.39M177.44 317.19 178.7 315.93 179.54 315.51 180.8 315.51 181.64 315.93 182.06 317.19 182.06 321.39M190.42 315.51 190.42 322.23 190 323.49 189.58 323.91 188.74 324.33 187.48 324.33 186.64 323.91M190.42 316.77 189.58 315.93 188.74 315.51 187.48 315.51 186.64 315.93 185.8 316.77 185.38 318.03 185.38 318.87 185.8 320.13 186.64 320.97 187.48 321.39 188.74 321.39 189.58 320.97 190.42 320.13M194.06 312.57 194.06 321.39M197.26 318.03 202.3 318.03 202.3 317.19 201.88 316.35 201.46 315.93 200.62 315.51 199.36 315.51 198.52 315.93 197.68 316.77 197.26 318.03 197.26 318.87 197.68 320.13 198.52 320.97 199.36 321.39 200.62 321.39 201.46 320.97 202.3 320.13" stroke="#fff" stroke-width="1.3"/>
<path d="M68.34 330.1 68.34 338.92M68.34 330.1 73.8 330.1M68.34 334.3 71.7 334.3M68.34 338.92 73.8 338.92M76.7 330.1 76.7 338.92M76.7 338.92 81.74 338.92M89.64 331.36 88.8 330.52 87.54 330.1 85.86 330.1 84.6 330.52 83.76 331.36 83.76 332.2 84.18 333.04 84.6 333.46 85.44 333.88 87.96 334.72 88.8 335.14 89.22 335.56 89.64 336.4 89.64 337.66 88.8 338.5 87.54 338.92 85.86 338.92 84.6 338.5 83.76 337.66M93.65 335.14 99.11 335.14M105.64 330.1 104.38 330.52 103.54 331.78 103.12 333.88 103.12 335.14 103.54 337.24 104.38 338.5 105.64 338.92 106.48 338.92 107.74 338.5 108.58 337.24 109 335.14 109 333.88 108.58 331.78 107.74 330.52 106.48 330.1 105.64 330.1M117.8 330.1 113.6 338.92M111.92 330.1 117.8 330.1M128.2 330.1 128.2 338.92M128.2 330.1 131.98 330.1 133.24 330.52 133.66 330.94 134.08 331.78 134.08 333.04 133.66 333.88 133.24 334.3 131.98 334.72 128.2 334.72M136.88 330.1 137.3 330.52 137.72 330.1 137.3 329.68 136.88 330.1M137.3 333.04 137.3 338.92M141.26 330.1 141.26 337.24 141.68 338.5 142.52 338.92 143.36 338.92M140 333.04 142.94 333.04M150.82 334.3 149.98 333.46 149.14 333.04 147.88 333.04 147.04 333.46 146.2 334.3 145.78 335.56 145.78 336.4 146.2 337.66 147.04 338.5 147.88 338.92 149.14 338.92 149.98 338.5 150.82 337.66M154.12 330.1 154.12 338.92M154.12 334.72 155.38 333.46 156.22 333.04 157.48 333.04 158.32 333.46 158.74 334.72 158.74 338.92M171.62 330.1 168.26 338.92M171.62 330.1 174.98 338.92M169.52 335.98 173.72 335.98M177.44 333.04 177.44 338.92M177.44 334.72 178.7 333.46 179.54 333.04 180.8 333.04 181.64 333.46 182.06 334.72 182.06 338.92M190.42 333.04 190.42 339.76 190 341.02 189.58 341.44 188.74 341.86 187.48 341.86 186.64 341.44M190.42 334.3 189.58 333.46 188.74 333.04 187.48 333.04 186.64 333.46 185.8 334.3 185.38 335.56 185.38 336.4 185.8 337.66 186.64 338.5 187.48 338.92 188.74 338.92 189.58 338.5 190.42 337.66M194.06 330.1 194.06 338.92M197.26 335.56 202.3 335.56 202.3 334.72 201.88 333.88 201.46 333.46 200.62 333.04 199.36 333.04 198.52 333.46 197.68 334.3 197.26 335.56 197.26 336.4 197.68 337.66 198.52 338.5 199.36 338.92 200.62 338.92 201.46 338.5 202.3 337.66" stroke="#fff" stroke-width="1.3"/>
<path d="M68.34 347.63 68.34 356.45M68.34 347.63 73.8 347.63M68.34 351.83 71.7 351.83M68.34 356.45 73.8 356.45M76.7 347.63 76.7 356.45M76.7 356.45 81.74 356.45M89.64 348.89 88.8 348.05 87.54 347.63 85.86 347.63 84.6 348.05 83.76 348.89 83.76 349.73 84.18 350.57 84.6 350.99 85.44 351.41 87.96 352.25 88.8 352.67 89.22 353.09 89.64 353.93 89.64 355.19 88.8 356.03 87.54 356.45 85.86 356.45 84.6 356.03 83.76 355.19M93.65 352.67 99.11 352.67M105.64 347.63 104.38 348.05 103.54 349.31 103.12 351.41 103.12 352.67 103.54 354.77 104.38 356.03 105.64 356.45 106.48 356.45 107.74 356.03 108.58 354.77 109 352.67 109 351.41 108.58 349.31 107.74 348.05 106.48 347.63 105.64 347.63M117.38 348.89 116.96 348.05 115.7 347.63 114.86 347.63 113.6 348.05 112.76 349.31 112.34 351.41 112.34 353.51 112.76 355.19 113.6 356.03 114.86 356.45 115.28 356.45 116.54 356.03 117.38 355.19 117.8 353.93 117.8 353.51 117.38 352.25 116.54 351.41 115.28 350.99 114.86 350.99 113.6 351.41 112.76 352.25 112.34 353.51M128.2 347.63 128.2 356.45M128.2 347.63 131.98 347.63 133.24 348.05 133.66 348.47 134.08 349.31 134.08 350.57 133.66 351.41 133.24 351.83 131.98 352.25 128.2 352.25M136.88 347.63 137.3 348.05 137.72 347.63 137.3 347.21 136.88 347.63M137.3 350.57 137.3 356.45M141.26 347.63 141.26 354.77 141.68 356.03 142.52 356.45 143.36 356.45M140 350.57 142.94 350.57M150.82 351.83 149.98 350.99 149.14 350.57 147.88 350.57 147.04 350.99 146.2 351.83 145.78 353.09 145.78 353.93 146.2 355.19 147.04 356.03 147.88 356.45 149.14 356.45 149.98 356.03 150.82 355.19M154.12 347.63 154.12 356.45M154.12 352.25 155.38 350.99 156.22 350.57 157.48 350.57 158.32 350.99 158.74 352.25 158.74 356.45M171.62 347.63 168.26 356.45M171.62 347.63 174.98 356.45M169.52 353.51 173.72 353.51M177.44 350.57 177.44 356.45M177.44 352.25 178.7 350.99 179.54 350.57 180.8 350.57 181.64 350.99 182.06 352.25 182.06 356.45M190.42 350.57 190.42 357.29 190 358.55 189.58 358.97 188.74 359.39 187.48 359.39 186.64 358.97M190.42 351.83 189.58 350.99 188.74 350.57 187.48 350.57 186.64 350.99 185.8 351.83 185.38 353.09 185.38 353.93 185.8 355.19 186.64 356.03 187.48 356.45 188.74 356.45 189.58 356.03 190.42 355.19M194.06 347.63 194.06 356.45M197.26 353.09 202.3 353.09 202.3 352.25 201.88 351.41 201.46 350.99 200.62 350.57 199.36 350.57 198.52 350.99 197.68 351.83 197.26 353.09 197.26 353.93 197.68 355.19 198.52 356.03 199.36 356.45 200.62 356.45 201.46 356.03 202.3 355.19" stroke="#fff" stroke-width="1.3"/>
<path d="M68.34 365.16 68.34 373.98M68.34 365.16 73.8 365.16M68.34 369.36 71.7 369.36M68.34 373.98 73.8 373.98M76.7 365.16 76.7 373.98M76.7 373.98 81.74 373.98M89.64 366.42 88.8 365.58 87.54 365.16 85.86 365.16 84.6 365.58 83.76 366.42 83.76 367.26 84.18 368.1 84.6 368.52 85.44 368.94 87.96 369.78 88.8 370.2 89.22 370.62 89.64 371.46 89.64 372.72 88.8 373.56 87.54 373.98 85.86 373.98 84.6 373.56 83.76 372.72M93.65 370.2 99.11 370.2M105.64 365.16 104.38 365.58 103.54 366.84 103.12 368.94 103.12 370.2 103.54 372.3 104.38 373.56 105.64 373.98 106.48 373.98 107.74 373.56 108.58 372.3 109 370.2 109 368.94 108.58 366.84 107.74 365.58 106.48 365.16 105.64 365.16M116.96 365.16 112.76 365.16 112.34 368.94 112.76 368.52 114.02 368.1 115.28 368.1 116.54 368.52 117.38 369.36 117.8 370.62 117.8 371.46 117.38 372.72 116.54 373.56 115.28 373.98 114.02 373.98 112.76 373.56 112.34 373.14 111.92 372.3M128.2 365.16 128.2 373.98M128.2 365.16 131.98 365.16 133.24 365.58 133.66 366 134.08 366.84 134.08 368.1 133.66 368.94 133.24 369.36 131.98 369.78 128.2 369.78M136.88 365.16 137.3 365.58 137.72 365.16 137.3 364.74 136.88 365.16M137.3 368.1 137.3 373.98M141.26 365.16 141.26 372.3 141.68 373.56 142.52 373.98 143.36 373.98M140 368.1 142.94 368.1M150.82 369.36 149.98 368.52 149.14 368.1 147.88 368.1 147.04 368.52 146.2 369.36 145.78 370.62 145.78 371.46 146.2 372.72 147.04 373.56 147.88 373.98 149.14 373.98 149.98 373.56 150.82 372.72M154.12 365.16 154.12 373.98M154.12 369.78 155.38 368.52 156.22 368.1 157.48 368.1 158.32 368.52 158.74 369.78 158.74 373.98M171.62 365.16 168.26 373.98M171.62 365.16 174.98 373.98M169.52 371.04 173.72 371.04M177.44 368.1 177.44 373.98M177.44 369.78 178.7 368.52 179.54 368.1 180.8 368.1 181.64 368.52 182.06 369.78 182.06 373.98M190.42 368.1 190.42 374.82 190 376.08 189.58 376.5 188.74 376.92 187.48 376.92 186.64 376.5M190.42 369.36 189.58 368.52 188.74 368.1 187.48 368.1 186.64 368.52 185.8 369.36 185.38 370.62 185.38 371.46 185.8 372.72 186.64 373.56 187.48 373.98 188.74 373.98 189.58 373.56 190.42 372.72M194.06 365.16 194.06 373.98M197.26 370.62 202.3 370.62 202.3 369.78 201.88 368.94 201.46 368.52 200.62 368.1 199.36 368.1 198.52 368.52 197.68 369.36 197.26 370.62 197.26 371.46 197.68 372.72 198.52 373.56 199.36 373.98 200.62 373.98 201.46 373.56 202.3 372.72" stroke="#fff" stroke-width="1.3"/>
<path d="M68.34 382.69 68.34 391.51M68.34 382.69 73.8 382.69M68.34 386.89 71.7 386.89M68.34 391.51 73.8 391.51M76.7 382.69 76.7 391.51M76.7 391.51 81.74 391.51M89.64 383.95 88.8 383.11 87.54 382.69 85.86 382.69 84.6 383.11 83.76 383.95 83.76 384.79 84.18 385.63 84.6 386.05 85.44 386.47 87.96 387.31 88.8 387.73 89.22 388.15 89.64 388.99 89.64 390.25 88.8 391.09 87.54 391.51 85.86 391.51 84.6 391.09 83.76 390.25M93.65 387.73 99.11 387.73M105.64 382.69 104.38 383.11 103.54 384.37 103.12 386.47 103.12 387.73 103.54 389.83 104.38 391.09 105.64 391.51 106.48 391.51 107.74 391.09 108.58 389.83 109 387.73 109 386.47 108.58 384.37 107.74 383.11 106.48 382.69 105.64 382.69M116.12 382.69 111.92 388.57 118.22 388.57M116.12 382.69 116.12 391.51M128.2 382.69 128.2 391.51M128.2 382.69 131.98 382.69 133.24 383.11 133.66 383.53 134.08 384.37 134.08 385.63 133.66 386.47 133.24 386.89 131.98 387.31 128.2 387.31M136.88 382.69 137.3 383.11 137.72 382.69 137.3 382.27 136.88 382.69M137.3 385.63 137.3 391.51M141.26 382.69 141.26 389.83 141.68 391.09 142.52 391.51 143.36 391.51M140 385.63 142.94 385.63M150.82 386.89 149.98 386.05 149.14 385.63 147.88 385.63 147.04 386.05 146.2 386.89 145.78 388.15 145.78 388.99 146.2 390.25 147.04 391.09 147.88 391.51 149.14 391.51 149.98 391.09 150.82 390.25M154.12 382.69 154.12 391.51M154.12 387.31 155.38 386.05 156.22 385.63 157.48 385.63 158.32 386.05 158.74 387.31 158.74 391.51M171.62 382.69 168.26 391.51M171.62 382.69 174.98 391.51M169.52 388.57 173.72 388.57M177.44 385.63 177.44 391.51M177.44 387.31 178.7 386.05 179.54 385.63 180.8 385.63 181.64 386.05 182.06 387.31 182.06 391.51M190.42 385.63 190.42 392.35 190 393.61 189.58 394.03 188.74 394.45 187.48 394.45 186.64 394.03M190.42 386.89 189.58 386.05 188.74 385.63 187.48 385.63 186.64 386.05 185.8 386.89 185.38 388.15 185.38 388.99 185.8 390.25 186.64 391.09 187.48 391.51 188.74 391.51 189.58 391.09 190.42 390.25M194.06 382.69 194.06 391.51M197.26 388.15 202.3 388.15 202.3 387.31 201.88 386.47 201.46 386.05 200.62 385.63 199.36 385.63 198.52 386.05 197.68 386.89 197.26 388.15 197.26 388.99 197.68 390.25 198.52 391.09 199.36 391.51 200.62 391.51 201.46 391.09 202.3 390.25" stroke="#fff" stroke-width="1.3"/>
<path d="M68.34 400.22 68.34 409.04M68.34 400.22 73.8 400.22M68.34 404.42 71.7 404.42M68.34 409.04 73.8 409.04M76.7 400.22 76.7 409.04M76.7 409.04 81.74 409.04M89.64 401.48 88.8 400.64 87.54 400.22 85.86 400.22 84.6 400.64 83.76 401.48 83.76 402.32 84.18 403.16 84.6 403.58 85.44 404 87.96 404.84 88.8 405.26 89.22 405.68 89.64 406.52 89.64 407.78 88.8 408.62 87.54 409.04 85.86 409.04 84.6 408.62 83.76 407.78M93.65 405.26 99.11 405.26M105.64 400.22 104.38 400.64 103.54 401.9 103.12 404 103.12 405.26 103.54 407.36 104.38 408.62 105.64 409.04 106.48 409.04 107.74 408.62 108.58 407.36 109 405.26 109 404 108.58 401.9 107.74 400.64 106.48 400.22 105.64 400.22M112.76 400.22 117.38 400.22 114.86 403.58 116.12 403.58 116.96 404 117.38 404.42 117.8 405.68 117.8 406.52 117.38 407.78 116.54 408.62 115.28 409.04 114.02 409.04 112.76 408.62 112.34 408.2 111.92 407.36M128.2 400.22 128.2 409.04M128.2 400.22 131.98 400.22 133.24 400.64 133.66 401.06 134.08 401.9 134.08 403.16 133.66 404 133.24 404.42 131.98 404.84 128.2 404.84M136.88 400.22 137.3 400.64 137.72 400.22 137.3 399.8 136.88 400.22M137.3 403.16 137.3 409.04M141.26 400.22 141.26 407.36 141.68 408.62 142.52 409.04 143.36 409.04M140 403.16 142.94 403.16M150.82 404.42 149.98 403.58 149.14 403.16 147.88 403.16 147.04 403.58 146.2 404.42 145.78 405.68 145.78 406.52 146.2 407.78 147.04 408.62 147.88 409.04 149.14 409.04 149.98 408.62 150.82 407.78M154.12 400.22 154.12 409.04M154.12 404.84 155.38 403.58 156.22 403.16 157.48 403.16 158.32 403.58 158.74 404.84 158.74 409.04M171.62 400.22 168.26 409.04M171.62 400.22 174.98 409.04M169.52 406.1 173.72 406.1M177.44 403.16 177.44 409.04M177.44 404.84 178.7 403.58 179.54 403.16 180.8 403.16 181.64 403.58 182.06 404.84 182.06 409.04M190.42 403.16 190.42 409.88 190 411.14 189.58 411.56 188.74 411.98 187.48 411.98 186.64 411.56M190.42 404.42 189.58 403.58 188.74 403.16 187.48 403.16 186.64 403.58 185.8 404.42 185.38 405.68 185.38 406.52 185.8 407.78 186.64 408.62 187.48 409.04 188.74 409.04 189.58 408.62 190.42 407.78M194.06 400.22 194.06 409.04M197.26 405.68 202.3 405.68 202.3 404.84 201.88 404 201.46 403.58 200.62 403.16 199.36 403.16 198.52 403.58 197.68 404.42 197.26 405.68 197.26 406.52 197.68 407.78 198.52 408.62 199.36 409.04 200.62 409.04 201.46 408.62 202.3 407.78" stroke="#fff" stroke-width="1.3"/>
<path d="M68.34 417.75 68.34 426.57M68.34 417.75 73.8 417.75M68.34 421.95 71.7 421.95M68.34 426.57 73.8 426.57M76.7 417.75 76.7 426.57M76.7 426.57 81.74 426.57M89.64 419.01 88.8 418.17 87.54 417.75 85.86 417.75 84.6 418.17 83.76 419.01 83.76 419.85 84.18 420.69 84.6 421.11 85.44 421.53 87.96 422.37 88.8 422.79 89.22 423.21 89.64 424.05 89.64 425.31 88.8 426.15 87.54 426.57 85.86 426.57 84.6 426.15 83.76 425.31M93.65 422.79 99.11 422.79M105.64 417.75 104.38 418.17 103.54 419.43 103.12 421.53 103.12 422.79 103.54 424.89 104.38 426.15 105.64 426.57 106.48 426.57 107.74 426.15 108.58 424.89 109 422.79 109 421.53 108.58 419.43 107.74 418.17 106.48 417.75 105.64 417.75M112.34 419.85 112.34 419.43 112.76 418.59 113.18 418.17 114.02 417.75 115.7 417.75 116.54 418.17 116.96 418.59 117.38 419.43 117.38 420.27 116.96 421.11 116.12 422.37 111.92 426.57 117.8 426.57M128.2 417.75 128.2 426.57M128.2 417.75 131.98 417.75 133.24 418.17 133.66 418.59 134.08 419.43 134.08 420.69 133.66 421.53 133.24 421.95 131.98 422.37 128.2 422.37M136.88 417.75 137.3 418.17 137.72 417.75 137.3 417.33 136.88 417.75M137.3 420.69 137.3 426.57M141.26 417.75 141.26 424.89 141.68 426.15 142.52 426.57 143.36 426.57M140 420.69 142.94 420.69M150.82 421.95 149.98 421.11 149.14 420.69 147.88 420.69 147.04 421.11 146.2 421.95 145.78 423.21 145.78 424.05 146.2 425.31 147.04 426.15 147.88 426.57 149.14 426.57 149.98 426.15 150.82 425.31M154.12 417.75 154.12 426.57M154.12 422.37 155.38 421.11 156.22 420.69 157.48 420.69 158.32 421.11 158.74 422.37 158.74 426.57M171.62 417.75 168.26 426.57M171.62 417.75 174.98 426.57M169.52 423.63 173.72 423.63M177.44 420.69 177.44 426.57M177.44 422.37 178.7 421.11 179.54 420.69 180.8 420.69 181.64 421.11 182.06 422.37 182.06 426.57M190.42 420.69 190.42 427.41 190 428.67 189.58 429.09 188.74 429.51 187.48 429.51 186.64 429.09M190.42 421.95 189.58 421.11 188.74 420.69 187.48 420.69 186.64 421.11 185.8 421.95 185.38 423.21 185.38 424.05 185.8 425.31 186.64 426.15 187.48 426.57 188.74 426.57 189.58 426.15 190.42 425.31M194.06 417.75 194.06 426.57M197.26 423.21 202.3 423.21 202.3 422.37 201.88 421.53 201.46 421.11 200.62 420.69 199.36 420.69 198.52 421.11 197.68 421.95 197.26 423.21 197.26 424.05 197.68 425.31 198.52 426.15 199.36 426.57 200.62 426.57 201.46 426.15 202.3 425.31" stroke="#fff" stroke-width="1.3"/>
<path d="M71.86 435.28 71.86 444.1M71.86 435.28 77.32 435.28M71.86 439.48 75.22 439.48M71.86 444.1 77.32 444.1M80.22 435.28 80.22 444.1M80.22 444.1 85.26 444.1M93.16 436.54 92.32 435.7 91.06 435.28 89.38 435.28 88.12 435.7 87.28 436.54 87.28 437.38 87.7 438.22 88.12 438.64 88.96 439.06 91.48 439.9 92.32 440.32 92.74 440.74 93.16 441.58 93.16 442.84 92.32 443.68 91.06 444.1 89.38 444.1 88.12 443.68 87.28 442.84M97.17 440.32 102.63 440.32M109.16 435.28 107.9 435.7 107.06 436.96 106.64 439.06 106.64 440.32 107.06 442.42 107.9 443.68 109.16 444.1 110 444.1 111.26 443.68 112.1 442.42 112.52 440.32 112.52 439.06 112.1 436.96 111.26 435.7 110 435.28 109.16 435.28M114.94 436.96 115.78 436.54 117.04 435.28 117.04 444.1M128.2 435.28 128.2 444.1M128.2 435.28 131.98 435.28 133.24 435.7 133.66 436.12 134.08 436.96 134.08 438.22 133.66 439.06 133.24 439.48 131.98 439.9 128.2 439.9M136.88 435.28 137.3 435.7 137.72 435.28 137.3 434.86 136.88 435.28M137.3 438.22 137.3 444.1M141.26 435.28 141.26 442.42 141.68 443.68 142.52 444.1 143.36 444.1M140 438.22 142.94 438.22M150.82 439.48 149.98 438.64 149.14 438.22 147.88 438.22 147.04 438.64 146.2 439.48 145.78 440.74 145.78 441.58 146.2 442.84 147.04 443.68 147.88 444.1 149.14 444.1 149.98 443.68 150.82 442.84M154.12 435.28 154.12 444.1M154.12 439.9 155.38 438.64 156.22 438.22 157.48 438.22 158.32 438.64 158.74 439.9 158.74 444.1M171.62 435.28 168.26 444.1M171.62 435.28 174.98 444.1M169.52 441.16 173.72 441.16M177.44 438.22 177.44 444.1M177.44 439.9 178.7 438.64 179.54 438.22 180.8 438.22 181.64 438.64 182.06 439.9 182.06 444.1M190.42 438.22 190.42 444.94 190 446.2 189.58 446.62 188.74 447.04 187.48 447.04 186.64 446.62M190.42 439.48 189.58 438.64 188.74 438.22 187.48 438.22 186.64 438.64 185.8 439.48 185.38 440.74 185.38 441.58 185.8 442.84 186.64 443.68 187.48 444.1 188.74 444.1 189.58 443.68 190.42 442.84M194.06 435.28 194.06 444.1M197.26 440.74 202.3 440.74 202.3 439.9 201.88 439.06 201.46 438.64 200.62 438.22 199.36 438.22 198.52 438.64 197.68 439.48 197.26 440.74 197.26 441.58 197.68 442.84 198.52 443.68 199.36 444.1 200.62 444.1 201.46 443.68 202.3 442.84" stroke="#fff" stroke-width="1.3"/>
<path d="M852.4 245.8 852.4 257.5M852.4 245.8 856.3 245.8 857.97 246.36 859.08 247.47 859.64 248.59 860.2 250.26 860.2 253.04 859.64 254.72 859.08 255.83 857.97 256.94 856.3 257.5 852.4 257.5M864.34 253.04 871.02 253.04 871.02 251.93 870.46 250.82 869.91 250.26 868.79 249.7 867.12 249.7 866.01 250.26 864.89 251.37 864.34 253.04 864.34 254.16 864.89 255.83 866.01 256.94 867.12 257.5 868.79 257.5 869.91 256.94 871.02 255.83M881.8 249.7 881.8 258.61 881.24 260.29 880.69 260.84 879.57 261.4 877.9 261.4 876.79 260.84M881.8 251.37 880.69 250.26 879.57 249.7 877.9 249.7 876.79 250.26 875.67 251.37 875.12 253.04 875.12 254.16 875.67 255.83 876.79 256.94 877.9 257.5 879.57 257.5 880.69 256.94 881.8 255.83" stroke="#fff" stroke-width="1.3"/>
<path d="M895.1 270.98 896.22 270.42 897.9 268.74 897.9 280.5M905.48 268.74 903.8 269.3 903.24 270.42 903.24 271.54 903.8 272.66 904.92 273.22 907.16 273.78 908.84 274.34 909.96 275.46 910.52 276.58 910.52 278.26 909.96 279.38 909.4 279.94 907.72 280.5 905.48 280.5 903.8 279.94 903.24 279.38 902.68 278.26 902.68 276.58 903.24 275.46 904.36 274.34 906.04 273.78 908.28 273.22 909.4 272.66 909.96 271.54 909.96 270.42 909.4 269.3 907.72 268.74 905.48 268.74M917.62 268.74 915.94 269.3 914.82 270.98 914.26 273.78 914.26 275.46 914.82 278.26 915.94 279.94 917.62 280.5 918.74 280.5 920.42 279.94 921.54 278.26 922.1 275.46 922.1 273.78 921.54 270.98 920.42 269.3 918.74 268.74 917.62 268.74" stroke="#fff" stroke-width="1.3"/>
<path d="M895.1 309.98 896.22 309.42 897.9 307.74 897.9 319.5M903.8 307.74 909.96 307.74 906.6 312.22 908.28 312.22 909.4 312.78 909.96 313.34 910.52 315.02 910.52 316.14 909.96 317.82 908.84 318.94 907.16 319.5 905.48 319.5 903.8 318.94 903.24 318.38 902.68 317.26M920.98 307.74 915.38 307.74 914.82 312.78 915.38 312.22 917.06 311.66 918.74 311.66 920.42 312.22 921.54 313.34 922.1 315.02 922.1 316.14 921.54 317.82 920.42 318.94 918.74 319.5 917.06 319.5 915.38 318.94 914.82 318.38 914.26 317.26" stroke="#fff" stroke-width="1.3"/>
<path d="M902.38 350.16 901.82 351.84 900.7 352.96 899.02 353.52 898.46 353.52 896.78 352.96 895.66 351.84 895.1 350.16 895.1 349.6 895.66 347.92 896.78 346.8 898.46 346.24 899.02 346.24 900.7 346.8 901.82 347.92 902.38 350.16 902.38 352.96 901.82 355.76 900.7 357.44 899.02 358 897.9 358 896.22 357.44 895.66 356.32M910.04 346.24 908.36 346.8 907.24 348.48 906.68 351.28 906.68 352.96 907.24 355.76 908.36 357.44 910.04 358 911.16 358 912.84 357.44 913.96 355.76 914.52 352.96 914.52 351.28 913.96 348.48 912.84 346.8 911.16 346.24 910.04 346.24" stroke="#fff" stroke-width="1.3"/>
<path d="M900.7 384.74 895.1 392.58 903.5 392.58M900.7 384.74 900.7 396.5M913.4 384.74 907.8 384.74 907.24 389.78 907.8 389.22 909.48 388.66 911.16 388.66 912.84 389.22 913.96 390.34 914.52 392.02 914.52 393.14 913.96 394.82 912.84 395.94 911.16 396.5 909.48 396.5 907.8 395.94 907.24 395.38 906.68 394.26" stroke="#fff" stroke-width="1.3"/>
<path d="M898.46 423.74 896.78 424.3 895.66 425.98 895.1 428.78 895.1 430.46 895.66 433.26 896.78 434.94 898.46 435.5 899.58 435.5 901.26 434.94 902.38 433.26 902.94 430.46 902.94 428.78 902.38 425.98 901.26 424.3 899.58 423.74 898.46 423.74" stroke="#fff" stroke-width="1.3"/>
<path d="M124.6 689.58 124.18 688.74 123.34 687.9 122.5 687.48 120.82 687.48 119.98 687.9 119.14 688.74 118.72 689.58 118.3 690.84 118.3 692.94 118.72 694.2 119.14 695.04 119.98 695.88 120.82 696.3 122.5 696.3 123.34 695.88 124.18 695.04 124.6 694.2 124.6 692.94M122.5 692.94 124.6 692.94M128.24 687.48 128.24 696.3M128.24 687.48 131.6 696.3M134.96 687.48 131.6 696.3M134.96 687.48 134.96 696.3M140.61 687.48 140.61 696.3M137.67 687.48 143.55 687.48M149.04 685.8 148.2 686.64 147.36 687.9 146.52 689.58 146.1 691.68 146.1 693.36 146.52 695.46 147.36 697.14 148.2 698.4 149.04 699.24M152.65 690.42 152.65 696.3M152.65 692.1 153.91 690.84 154.75 690.42 156.01 690.42 156.85 690.84 157.27 692.1 157.27 696.3M157.27 692.1 158.53 690.84 159.37 690.42 160.63 690.42 161.47 690.84 161.89 692.1 161.89 696.3M165.41 687.48 165.83 687.9 166.25 687.48 165.83 687.06 165.41 687.48M165.83 690.42 165.83 696.3M169.58 690.42 169.58 696.3M169.58 692.1 170.84 690.84 171.68 690.42 172.94 690.42 173.78 690.84 174.2 692.1 174.2 696.3M177.66 685.8 178.5 686.64 179.34 687.9 180.18 689.58 180.6 691.68 180.6 693.36 180.18 695.46 179.34 697.14 178.5 698.4 177.66 699.24" stroke="#fff" stroke-width="1.6"/>
<path d="M196.26 687.48 195 687.9 194.16 689.16 193.74 691.26 193.74 692.52 194.16 694.62 195 695.88 196.26 696.3 197.09 696.3 198.36 695.88 199.2 694.62 199.62 692.52 199.62 691.26 199.2 689.16 198.36 687.9 197.09 687.48 196.26 687.48M208.32 687.48 204.12 696.3M202.44 687.48 208.32 687.48M211.9 690.42 211.48 690.84 211.9 691.26 212.32 690.84 211.9 690.42M211.9 695.46 211.48 695.88 211.9 696.3 212.32 695.88 211.9 695.46M218.01 687.48 216.75 687.9 215.91 689.16 215.49 691.26 215.49 692.52 215.91 694.62 216.75 695.88 218.01 696.3 218.84 696.3 220.11 695.88 220.95 694.62 221.37 692.52 221.37 691.26 220.95 689.16 220.11 687.9 218.84 687.48 218.01 687.48M226.71 687.48 225.44 687.9 224.6 689.16 224.19 691.26 224.19 692.52 224.6 694.62 225.44 695.88 226.71 696.3 227.54 696.3 228.81 695.88 229.65 694.62 230.06 692.52 230.06 691.26 229.65 689.16 228.81 687.9 227.54 687.48 226.71 687.48" stroke="#fff" stroke-width="1.3"/>
<path d="M250.25 687.48 248.99 687.9 248.15 689.16 247.73 691.26 247.73 692.52 248.15 694.62 248.99 695.88 250.25 696.3 251.09 696.3 252.35 695.88 253.19 694.62 253.61 692.52 253.61 691.26 253.19 689.16 252.35 687.9 251.09 687.48 250.25 687.48M262.31 687.48 258.12 696.3M256.44 687.48 262.31 687.48M265.9 690.42 265.48 690.84 265.9 691.26 266.32 690.84 265.9 690.42M265.9 695.46 265.48 695.88 265.9 696.3 266.32 695.88 265.9 695.46M270.32 687.48 274.94 687.48 272.43 690.84 273.69 690.84 274.53 691.26 274.94 691.68 275.37 692.94 275.37 693.78 274.94 695.04 274.11 695.88 272.85 696.3 271.59 696.3 270.32 695.88 269.91 695.46 269.49 694.62M280.7 687.48 279.44 687.9 278.61 689.16 278.19 691.26 278.19 692.52 278.61 694.62 279.44 695.88 280.7 696.3 281.55 696.3 282.81 695.88 283.64 694.62 284.06 692.52 284.06 691.26 283.64 689.16 282.81 687.9 281.55 687.48 280.7 687.48" stroke="#fff" stroke-width="1.3"/>
<path d="M305.25 687.48 304 687.9 303.16 689.16 302.74 691.26 302.74 692.52 303.16 694.62 304 695.88 305.25 696.3 306.1 696.3 307.36 695.88 308.19 694.62 308.62 692.52 308.62 691.26 308.19 689.16 307.36 687.9 306.1 687.48 305.25 687.48M313.54 687.48 312.27 687.9 311.86 688.74 311.86 689.58 312.27 690.42 313.12 690.84 314.8 691.26 316.06 691.68 316.89 692.52 317.31 693.36 317.31 694.62 316.89 695.46 316.48 695.88 315.21 696.3 313.54 696.3 312.27 695.88 311.86 695.46 311.44 694.62 311.44 693.36 311.86 692.52 312.69 691.68 313.95 691.26 315.63 690.84 316.48 690.42 316.89 689.58 316.89 688.74 316.48 687.9 315.21 687.48 313.54 687.48M320.9 690.42 320.48 690.84 320.9 691.26 321.32 690.84 320.9 690.42M320.9 695.46 320.48 695.88 320.9 696.3 321.32 695.88 320.9 695.46M327 687.48 325.75 687.9 324.91 689.16 324.49 691.26 324.49 692.52 324.91 694.62 325.75 695.88 327 696.3 327.85 696.3 329.11 695.88 329.94 694.62 330.37 692.52 330.37 691.26 329.94 689.16 329.11 687.9 327.85 687.48 327 687.48M335.7 687.48 334.44 687.9 333.61 689.16 333.19 691.26 333.19 692.52 333.61 694.62 334.44 695.88 335.7 696.3 336.55 696.3 337.81 695.88 338.64 694.62 339.06 692.52 339.06 691.26 338.64 689.16 337.81 687.9 336.55 687.48 335.7 687.48" stroke="#fff" stroke-width="1.3"/>
<path d="M360.25 687.48 359 687.9 358.16 689.16 357.74 691.26 357.74 692.52 358.16 694.62 359 695.88 360.25 696.3 361.1 696.3 362.36 695.88 363.19 694.62 363.62 692.52 363.62 691.26 363.19 689.16 362.36 687.9 361.1 687.48 360.25 687.48M368.54 687.48 367.27 687.9 366.86 688.74 366.86 689.58 367.27 690.42 368.12 690.84 369.8 691.26 371.06 691.68 371.89 692.52 372.31 693.36 372.31 694.62 371.89 695.46 371.48 695.88 370.21 696.3 368.54 696.3 367.27 695.88 366.86 695.46 366.44 694.62 366.44 693.36 366.86 692.52 367.69 691.68 368.95 691.26 370.63 690.84 371.48 690.42 371.89 689.58 371.89 688.74 371.48 687.9 370.21 687.48 368.54 687.48M375.9 690.42 375.48 690.84 375.9 691.26 376.32 690.84 375.9 690.42M375.9 695.46 375.48 695.88 375.9 696.3 376.32 695.88 375.9 695.46M380.32 687.48 384.94 687.48 382.43 690.84 383.69 690.84 384.53 691.26 384.94 691.68 385.37 692.94 385.37 693.78 384.94 695.04 384.11 695.88 382.85 696.3 381.59 696.3 380.32 695.88 379.91 695.46 379.49 694.62M390.7 687.48 389.44 687.9 388.61 689.16 388.19 691.26 388.19 692.52 388.61 694.62 389.44 695.88 390.7 696.3 391.55 696.3 392.81 695.88 393.64 694.62 394.06 692.52 394.06 691.26 393.64 689.16 392.81 687.9 391.55 687.48 390.7 687.48" stroke="#fff" stroke-width="1.3"/>
<path d="M414.25 687.48 413 687.9 412.16 689.16 411.74 691.26 411.74 692.52 412.16 694.62 413 695.88 414.25 696.3 415.1 696.3 416.36 695.88 417.19 694.62 417.62 692.52 417.62 691.26 417.19 689.16 416.36 687.9 415.1 687.48 414.25 687.48M425.89 690.42 425.48 691.68 424.63 692.52 423.38 692.94 422.95 692.94 421.69 692.52 420.86 691.68 420.44 690.42 420.44 690 420.86 688.74 421.69 687.9 422.95 687.48 423.38 687.48 424.63 687.9 425.48 688.74 425.89 690.42 425.89 692.52 425.48 694.62 424.63 695.88 423.38 696.3 422.54 696.3 421.27 695.88 420.86 695.04M429.9 690.42 429.48 690.84 429.9 691.26 430.32 690.84 429.9 690.42M429.9 695.46 429.48 695.88 429.9 696.3 430.32 695.88 429.9 695.46M436 687.48 434.75 687.9 433.91 689.16 433.49 691.26 433.49 692.52 433.91 694.62 434.75 695.88 436 696.3 436.85 696.3 438.11 695.88 438.94 694.62 439.37 692.52 439.37 691.26 438.94 689.16 438.11 687.9 436.85 687.48 436 687.48M444.7 687.48 443.44 687.9 442.61 689.16 442.19 691.26 442.19 692.52 442.61 694.62 443.44 695.88 444.7 696.3 445.55 696.3 446.81 695.88 447.64 694.62 448.06 692.52 448.06 691.26 447.64 689.16 446.81 687.9 445.55 687.48 444.7 687.48" stroke="#fff" stroke-width="1.3"/>
<path d="M469.25 687.48 468 687.9 467.16 689.16 466.74 691.26 466.74 692.52 467.16 694.62 468 695.88 469.25 696.3 470.1 696.3 471.36 695.88 472.19 694.62 472.62 692.52 472.62 691.26 472.19 689.16 471.36 687.9 470.1 687.48 469.25 687.48M480.89 690.42 480.48 691.68 479.63 692.52 478.38 692.94 477.95 692.94 476.69 692.52 475.86 691.68 475.44 690.42 475.44 690 475.86 688.74 476.69 687.9 477.95 687.48 478.38 687.48 479.63 687.9 480.48 688.74 480.89 690.42 480.89 692.52 480.48 694.62 479.63 695.88 478.38 696.3 477.54 696.3 476.27 695.88 475.86 695.04M484.9 690.42 484.48 690.84 484.9 691.26 485.32 690.84 484.9 690.42M484.9 695.46 484.48 695.88 484.9 696.3 485.32 695.88 484.9 695.46M489.32 687.48 493.94 687.48 491.43 690.84 492.69 690.84 493.53 691.26 493.94 691.68 494.37 692.94 494.37 693.78 493.94 695.04 493.11 695.88 491.85 696.3 490.59 696.3 489.32 695.88 488.91 695.46 488.49 694.62M499.7 687.48 498.44 687.9 497.61 689.16 497.19 691.26 497.19 692.52 497.61 694.62 498.44 695.88 499.7 696.3 500.55 696.3 501.81 695.88 502.64 694.62 503.06 692.52 503.06 691.26 502.64 689.16 501.81 687.9 500.55 687.48 499.7 687.48" stroke="#fff" stroke-width="1.3"/>
<path d="M523.24 689.16 524.07 688.74 525.33 687.48 525.33 696.3M531.46 687.48 530.2 687.9 529.36 689.16 528.93 691.26 528.93 692.52 529.36 694.62 530.2 695.88 531.46 696.3 532.29 696.3 533.55 695.88 534.39 694.62 534.82 692.52 534.82 691.26 534.39 689.16 533.55 687.9 532.29 687.48 531.46 687.48M538.4 690.42 537.98 690.84 538.4 691.26 538.82 690.84 538.4 690.42M538.4 695.46 537.98 695.88 538.4 696.3 538.82 695.88 538.4 695.46M544.5 687.48 543.25 687.9 542.4 689.16 541.98 691.26 541.98 692.52 542.4 694.62 543.25 695.88 544.5 696.3 545.34 696.3 546.6 695.88 547.44 694.62 547.87 692.52 547.87 691.26 547.44 689.16 546.6 687.9 545.34 687.48 544.5 687.48M553.21 687.48 551.95 687.9 551.11 689.16 550.68 691.26 550.68 692.52 551.11 694.62 551.95 695.88 553.21 696.3 554.04 696.3 555.3 695.88 556.14 694.62 556.57 692.52 556.57 691.26 556.14 689.16 555.3 687.9 554.04 687.48 553.21 687.48" stroke="#fff" stroke-width="1.3"/>
<path d="M577.24 689.16 578.07 688.74 579.33 687.48 579.33 696.3M585.46 687.48 584.2 687.9 583.36 689.16 582.93 691.26 582.93 692.52 583.36 694.62 584.2 695.88 585.46 696.3 586.29 696.3 587.55 695.88 588.39 694.62 588.82 692.52 588.82 691.26 588.39 689.16 587.55 687.9 586.29 687.48 585.46 687.48M592.4 690.42 591.98 690.84 592.4 691.26 592.82 690.84 592.4 690.42M592.4 695.46 591.98 695.88 592.4 696.3 592.82 695.88 592.4 695.46M596.82 687.48 601.44 687.48 598.92 690.84 600.18 690.84 601.02 691.26 601.44 691.68 601.87 692.94 601.87 693.78 601.44 695.04 600.6 695.88 599.34 696.3 598.08 696.3 596.82 695.88 596.4 695.46 595.98 694.62M607.21 687.48 605.95 687.9 605.11 689.16 604.68 691.26 604.68 692.52 605.11 694.62 605.95 695.88 607.21 696.3 608.04 696.3 609.3 695.88 610.14 694.62 610.57 692.52 610.57 691.26 610.14 689.16 609.3 687.9 608.04 687.48 607.21 687.48" stroke="#fff" stroke-width="1.3"/>
<path d="M633.98 689.16 634.81 688.74 636.07 687.48 636.07 696.3M639.2 689.16 640.03 688.74 641.29 687.48 641.29 696.3M645.66 690.42 645.24 690.84 645.66 691.26 646.08 690.84 645.66 690.42M645.66 695.46 645.24 695.88 645.66 696.3 646.08 695.88 645.66 695.46M651.76 687.48 650.5 687.9 649.66 689.16 649.24 691.26 649.24 692.52 649.66 694.62 650.5 695.88 651.76 696.3 652.6 696.3 653.86 695.88 654.7 694.62 655.12 692.52 655.12 691.26 654.7 689.16 653.86 687.9 652.6 687.48 651.76 687.48M660.47 687.48 659.21 687.9 658.37 689.16 657.94 691.26 657.94 692.52 658.37 694.62 659.21 695.88 660.47 696.3 661.3 696.3 662.56 695.88 663.4 694.62 663.83 692.52 663.83 691.26 663.4 689.16 662.56 687.9 661.3 687.48 660.47 687.48" stroke="#fff" stroke-width="1.3"/>
<path d="M687.98 689.16 688.81 688.74 690.07 687.48 690.07 696.3M693.2 689.16 694.03 688.74 695.29 687.48 695.29 696.3M699.66 690.42 699.24 690.84 699.66 691.26 700.08 690.84 699.66 690.42M699.66 695.46 699.24 695.88 699.66 696.3 700.08 695.88 699.66 695.46M704.08 687.48 708.7 687.48 706.18 690.84 707.44 690.84 708.28 691.26 708.7 691.68 709.12 692.94 709.12 693.78 708.7 695.04 707.86 695.88 706.6 696.3 705.34 696.3 704.08 695.88 703.66 695.46 703.24 694.62M714.47 687.48 713.21 687.9 712.37 689.16 711.94 691.26 711.94 692.52 712.37 694.62 713.21 695.88 714.47 696.3 715.3 696.3 716.56 695.88 717.4 694.62 717.83 692.52 717.83 691.26 717.4 689.16 716.56 687.9 715.3 687.48 714.47 687.48" stroke="#fff" stroke-width="1.3"/>
<path d="M741.24 689.16 742.07 688.74 743.33 687.48 743.33 696.3M747.36 689.58 747.36 689.16 747.77 688.32 748.2 687.9 749.03 687.48 750.72 687.48 751.55 687.9 751.98 688.32 752.39 689.16 752.39 690 751.98 690.84 751.13 692.1 746.93 696.3 752.82 696.3M756.4 690.42 755.98 690.84 756.4 691.26 756.82 690.84 756.4 690.42M756.4 695.46 755.98 695.88 756.4 696.3 756.82 695.88 756.4 695.46M762.5 687.48 761.25 687.9 760.4 689.16 759.98 691.26 759.98 692.52 760.4 694.62 761.25 695.88 762.5 696.3 763.34 696.3 764.6 695.88 765.44 694.62 765.87 692.52 765.87 691.26 765.44 689.16 764.6 687.9 763.34 687.48 762.5 687.48M771.21 687.48 769.95 687.9 769.11 689.16 768.68 691.26 768.68 692.52 769.11 694.62 769.95 695.88 771.21 696.3 772.04 696.3 773.3 695.88 774.14 694.62 774.57 692.52 774.57 691.26 774.14 689.16 773.3 687.9 772.04 687.48 771.21 687.48" stroke="#fff" stroke-width="1.3"/>
<path d="M796.24 689.16 797.07 688.74 798.33 687.48 798.33 696.3M802.36 689.58 802.36 689.16 802.77 688.32 803.2 687.9 804.03 687.48 805.72 687.48 806.55 687.9 806.98 688.32 807.39 689.16 807.39 690 806.98 690.84 806.13 692.1 801.93 696.3 807.82 696.3M811.4 690.42 810.98 690.84 811.4 691.26 811.82 690.84 811.4 690.42M811.4 695.46 810.98 695.88 811.4 696.3 811.82 695.88 811.4 695.46M815.82 687.48 820.44 687.48 817.92 690.84 819.18 690.84 820.02 691.26 820.44 691.68 820.87 692.94 820.87 693.78 820.44 695.04 819.6 695.88 818.34 696.3 817.08 696.3 815.82 695.88 815.4 695.46 814.98 694.62M826.21 687.48 824.95 687.9 824.11 689.16 823.68 691.26 823.68 692.52 824.11 694.62 824.95 695.88 826.21 696.3 827.04 696.3 828.3 695.88 829.14 694.62 829.57 692.52 829.57 691.26 829.14 689.16 828.3 687.9 827.04 687.48 826.21 687.48" stroke="#fff" stroke-width="1.3"/>
<path d="M191.2 495.64 187.4 502.08 193.1 502.08M191.2 495.64 191.2 505.3" stroke="#fff" stroke-width="1.3"/>
<path d="M188.54 531.14 192.72 531.14 190.44 534.82 191.58 534.82 192.34 535.28 192.72 535.74 193.1 537.12 193.1 538.04 192.72 539.42 191.96 540.34 190.82 540.8 189.68 540.8 188.54 540.34 188.16 539.88 187.78 538.96" stroke="#fff" stroke-width="1.3"/>
<path d="M188.16 568.94 188.16 568.48 188.54 567.56 188.92 567.1 189.68 566.64 191.2 566.64 191.96 567.1 192.34 567.56 192.72 568.48 192.72 569.4 192.34 570.32 191.58 571.7 187.78 576.3 193.1 576.3" stroke="#fff" stroke-width="1.3"/>
<path d="M191.2 603.98 191.96 603.52 193.1 602.14 193.1 611.8" stroke="#fff" stroke-width="1.3"/>
<path d="M190.06 637.64 188.92 638.1 188.16 639.48 187.78 641.78 187.78 643.16 188.16 645.46 188.92 646.84 190.06 647.3 190.82 647.3 191.96 646.84 192.72 645.46 193.1 643.16 193.1 641.78 192.72 639.48 191.96 638.1 190.82 637.64 190.06 637.64" stroke="#fff" stroke-width="1.3"/>
<path d="M182.76 677.73 187.06 677.73M191.15 675.09 191.81 674.76 192.8 673.77 192.8 680.7" stroke="#fff" stroke-width="1.3"/>
<path d="M846.5 498.15 847.3 497.7 848.5 496.35 848.5 505.8M852.88 504.9 852.49 505.35 852.88 505.8 853.28 505.35 852.88 504.9M859.01 496.35 857.81 496.8 857.01 498.15 856.61 500.4 856.61 501.75 857.01 504 857.81 505.35 859.01 505.8 859.81 505.8 861.01 505.35 861.81 504 862.21 501.75 862.21 500.4 861.81 498.15 861.01 496.8 859.81 496.35 859.01 496.35M865.27 502.2 870.07 502.2 870.07 501.3 869.67 500.4 869.27 499.95 868.47 499.5 867.27 499.5 866.47 499.95 865.67 500.85 865.27 502.2 865.27 503.1 865.67 504.45 866.47 505.35 867.27 505.8 868.47 505.8 869.27 505.35 870.07 504.45M876.81 499.05 876.81 504.45M874.41 501.75 879.21 501.75M885.98 496.35 884.78 496.8 883.98 498.15 883.58 500.4 883.58 501.75 883.98 504 884.78 505.35 885.98 505.8 886.78 505.8 887.98 505.35 888.78 504 889.18 501.75 889.18 500.4 888.78 498.15 887.98 496.8 886.78 496.35 885.98 496.35M896.28 496.35 892.28 502.65 898.28 502.65M896.28 496.35 896.28 505.8" stroke="#fff" stroke-width="1.3"/>
<path d="M851.3 532.7 850.9 531.8 849.7 531.35 848.9 531.35 847.7 531.8 846.9 533.15 846.5 535.4 846.5 537.65 846.9 539.45 847.7 540.35 848.9 540.8 849.3 540.8 850.5 540.35 851.3 539.45 851.7 538.1 851.7 537.65 851.3 536.3 850.5 535.4 849.3 534.95 848.9 534.95 847.7 535.4 846.9 536.3 846.5 537.65M855.42 539.9 855.02 540.35 855.42 540.8 855.82 540.35 855.42 539.9M861.55 531.35 860.35 531.8 859.55 533.15 859.15 535.4 859.15 536.75 859.55 539 860.35 540.35 861.55 540.8 862.35 540.8 863.55 540.35 864.35 539 864.75 536.75 864.75 535.4 864.35 533.15 863.55 531.8 862.35 531.35 861.55 531.35M867.81 537.2 872.61 537.2 872.61 536.3 872.21 535.4 871.81 534.95 871.01 534.5 869.81 534.5 869.01 534.95 868.21 535.85 867.81 537.2 867.81 538.1 868.21 539.45 869.01 540.35 869.81 540.8 871.01 540.8 871.81 540.35 872.61 539.45M879.35 534.05 879.35 539.45M876.95 536.75 881.75 536.75M888.52 531.35 887.32 531.8 886.52 533.15 886.12 535.4 886.12 536.75 886.52 539 887.32 540.35 888.52 540.8 889.32 540.8 890.52 540.35 891.32 539 891.72 536.75 891.72 535.4 891.32 533.15 890.52 531.8 889.32 531.35 888.52 531.35M895.62 531.35 900.02 531.35 897.62 534.95 898.82 534.95 899.62 535.4 900.02 535.85 900.42 537.2 900.42 538.1 900.02 539.45 899.22 540.35 898.02 540.8 896.82 540.8 895.62 540.35 895.22 539.9 894.82 539" stroke="#fff" stroke-width="1.3"/>
<path d="M846.9 569.6 846.9 569.15 847.3 568.25 847.7 567.8 848.5 567.35 850.1 567.35 850.9 567.8 851.3 568.25 851.7 569.15 851.7 570.05 851.3 570.95 850.5 572.3 846.5 576.8 852.1 576.8M855.83 575.9 855.43 576.35 855.83 576.8 856.23 576.35 855.83 575.9M861.95 567.35 860.75 567.8 859.95 569.15 859.55 571.4 859.55 572.75 859.95 575 860.75 576.35 861.95 576.8 862.75 576.8 863.95 576.35 864.75 575 865.15 572.75 865.15 571.4 864.75 569.15 863.95 567.8 862.75 567.35 861.95 567.35M868.22 573.2 873.01 573.2 873.01 572.3 872.62 571.4 872.22 570.95 871.41 570.5 870.22 570.5 869.41 570.95 868.62 571.85 868.22 573.2 868.22 574.1 868.62 575.45 869.41 576.35 870.22 576.8 871.41 576.8 872.22 576.35 873.01 575.45M879.75 570.05 879.75 575.45M877.35 572.75 882.15 572.75M888.92 567.35 887.72 567.8 886.92 569.15 886.52 571.4 886.52 572.75 886.92 575 887.72 576.35 888.92 576.8 889.72 576.8 890.92 576.35 891.72 575 892.12 572.75 892.12 571.4 891.72 569.15 890.92 567.8 889.72 567.35 888.92 567.35M896.02 567.35 900.42 567.35 898.02 570.95 899.22 570.95 900.02 571.4 900.42 571.85 900.82 573.2 900.82 574.1 900.42 575.45 899.62 576.35 898.42 576.8 897.22 576.8 896.02 576.35 895.62 575.9 895.22 575" stroke="#fff" stroke-width="1.3"/>
<path d="M846.5 607.75 851.7 607.75M856.27 604.6 856.27 604.15 856.67 603.25 857.07 602.8 857.87 602.35 859.47 602.35 860.27 602.8 860.67 603.25 861.07 604.15 861.07 605.05 860.67 605.95 859.87 607.3 855.87 611.8 861.47 611.8M865.2 610.9 864.8 611.35 865.2 611.8 865.6 611.35 865.2 610.9M871.32 602.35 870.12 602.8 869.32 604.15 868.92 606.4 868.92 607.75 869.32 610 870.12 611.35 871.32 611.8 872.12 611.8 873.32 611.35 874.12 610 874.52 607.75 874.52 606.4 874.12 604.15 873.32 602.8 872.12 602.35 871.32 602.35M877.59 608.2 882.38 608.2 882.38 607.3 881.99 606.4 881.59 605.95 880.78 605.5 879.59 605.5 878.78 605.95 877.99 606.85 877.59 608.2 877.59 609.1 877.99 610.45 878.78 611.35 879.59 611.8 880.78 611.8 881.59 611.35 882.38 610.45M889.12 605.05 889.12 610.45M886.72 607.75 891.52 607.75M898.29 602.35 897.09 602.8 896.29 604.15 895.89 606.4 895.89 607.75 896.29 610 897.09 611.35 898.29 611.8 899.09 611.8 900.29 611.35 901.09 610 901.49 607.75 901.49 606.4 901.09 604.15 900.29 602.8 899.09 602.35 898.29 602.35M905.39 602.35 909.79 602.35 907.39 605.95 908.59 605.95 909.39 606.4 909.79 606.85 910.19 608.2 910.19 609.1 909.79 610.45 908.99 611.35 907.79 611.8 906.59 611.8 905.39 611.35 904.99 610.9 904.59 610" stroke="#fff" stroke-width="1.3"/>
<path d="M846.5 643.75 851.7 643.75M861.07 639.7 860.67 638.8 859.47 638.35 858.67 638.35 857.47 638.8 856.67 640.15 856.27 642.4 856.27 644.65 856.67 646.45 857.47 647.35 858.67 647.8 859.07 647.8 860.27 647.35 861.07 646.45 861.47 645.1 861.47 644.65 861.07 643.3 860.27 642.4 859.07 641.95 858.67 641.95 857.47 642.4 856.67 643.3 856.27 644.65M865.2 646.9 864.8 647.35 865.2 647.8 865.6 647.35 865.2 646.9M871.32 638.35 870.12 638.8 869.32 640.15 868.92 642.4 868.92 643.75 869.32 646 870.12 647.35 871.32 647.8 872.12 647.8 873.32 647.35 874.12 646 874.52 643.75 874.52 642.4 874.12 640.15 873.32 638.8 872.12 638.35 871.32 638.35M877.59 644.2 882.38 644.2 882.38 643.3 881.99 642.4 881.59 641.95 880.78 641.5 879.59 641.5 878.78 641.95 877.99 642.85 877.59 644.2 877.59 645.1 877.99 646.45 878.78 647.35 879.59 647.8 880.78 647.8 881.59 647.35 882.38 646.45M889.12 641.05 889.12 646.45M886.72 643.75 891.52 643.75M898.29 638.35 897.09 638.8 896.29 640.15 895.89 642.4 895.89 643.75 896.29 646 897.09 647.35 898.29 647.8 899.09 647.8 900.29 647.35 901.09 646 901.49 643.75 901.49 642.4 901.09 640.15 900.29 638.8 899.09 638.35 898.29 638.35M905.39 638.35 909.79 638.35 907.39 641.95 908.59 641.95 909.39 642.4 909.79 642.85 910.19 644.2 910.19 645.1 909.79 646.45 908.99 647.35 907.79 647.8 906.59 647.8 905.39 647.35 904.99 646.9 904.59 646" stroke="#fff" stroke-width="1.3"/>
<path d="M846.5 678.75 851.7 678.75M855.33 675.15 856.13 674.7 857.33 673.35 857.33 682.8M861.72 681.9 861.32 682.35 861.72 682.8 862.12 682.35 861.72 681.9M867.84 673.35 866.64 673.8 865.84 675.15 865.44 677.4 865.44 678.75 865.84 681 866.64 682.35 867.84 682.8 868.64 682.8 869.84 682.35 870.64 681 871.04 678.75 871.04 677.4 870.64 675.15 869.84 673.8 868.64 673.35 867.84 673.35M874.11 679.2 878.9 679.2 878.9 678.3 878.5 677.4 878.11 676.95 877.3 676.5 876.11 676.5 875.3 676.95 874.5 677.85 874.11 679.2 874.11 680.1 874.5 681.45 875.3 682.35 876.11 682.8 877.3 682.8 878.11 682.35 878.9 681.45M885.64 676.05 885.64 681.45M883.24 678.75 888.04 678.75M894.81 673.35 893.61 673.8 892.81 675.15 892.41 677.4 892.41 678.75 892.81 681 893.61 682.35 894.81 682.8 895.61 682.8 896.81 682.35 897.61 681 898.01 678.75 898.01 677.4 897.61 675.15 896.81 673.8 895.61 673.35 894.81 673.35M905.11 673.35 901.11 679.65 907.11 679.65M905.11 673.35 905.11 682.8" stroke="#fff" stroke-width="1.3"/>
<path d="M219.63 482.14 218.57 481.08 216.98 480.55 214.85 480.55 213.26 481.08 212.2 482.14 212.2 483.2 212.73 484.27 213.26 484.8 214.32 485.33 217.51 486.39 218.57 486.92 219.1 487.45 219.63 488.51 219.63 490.11 218.57 491.17 216.98 491.7 214.85 491.7 213.26 491.17 212.2 490.11M226.56 480.55 222.32 491.7M226.56 480.55 230.81 491.7M223.91 487.98 229.22 487.98M234.02 480.55 234.02 491.7M234.02 480.55 240.93 480.55M234.02 485.86 238.27 485.86M244.67 495.95 250.51 495.95M256.46 480.55 256.46 491.7M256.46 480.55 261.24 480.55 262.84 481.08 263.37 481.61 263.9 482.67 263.9 483.74 263.37 484.8 262.84 485.33 261.24 485.86M256.46 485.86 261.24 485.86 262.84 486.39 263.37 486.92 263.9 487.98 263.9 489.58 263.37 490.64 262.84 491.17 261.24 491.7 256.46 491.7M267.67 480.55 275.11 491.7M275.11 480.55 267.67 491.7M279.38 484.27 279.38 489.58 279.91 491.17 280.97 491.7 282.57 491.7 283.63 491.17 285.22 489.58M285.22 484.27 285.22 491.7M292.12 480.55 292.12 491.7M288.4 480.55 295.84 480.55M307.55 478.43 297.99 495.42M311.38 480.55 311.38 491.7M311.38 480.55 315.09 480.55 316.69 481.08 317.75 482.14 318.28 483.2 318.81 484.8 318.81 487.45 318.28 489.05 317.75 490.11 316.69 491.17 315.09 491.7 311.38 491.7M328.92 484.27 328.92 491.7M328.92 485.86 327.86 484.8 326.8 484.27 325.21 484.27 324.15 484.8 323.08 485.86 322.55 487.45 322.55 488.51 323.08 490.11 324.15 491.17 325.21 491.7 326.8 491.7 327.86 491.17 328.92 490.11M334.14 480.55 334.14 489.58 334.67 491.17 335.74 491.7 336.8 491.7M332.55 484.27 336.27 484.27M346.29 484.27 346.29 491.7M346.29 485.86 345.23 484.8 344.17 484.27 342.58 484.27 341.52 484.8 340.45 485.86 339.92 487.45 339.92 488.51 340.45 490.11 341.52 491.17 342.58 491.7 344.17 491.7 345.23 491.17 346.29 490.11M362.78 480.55 361.72 481.08 360.65 482.14 360.12 483.2 359.59 484.8 359.59 487.45 360.12 489.05 360.65 490.11 361.72 491.17 362.78 491.7 364.9 491.7 365.96 491.17 367.03 490.11 367.56 489.05 368.09 487.45 368.09 484.8 367.56 483.2 367.03 482.14 365.96 481.08 364.9 480.55 362.78 480.55M364.37 489.58 367.56 492.76M372.39 484.27 372.39 489.58 372.92 491.17 373.98 491.7 375.58 491.7 376.64 491.17 378.23 489.58M378.23 484.27 378.23 491.7M388.88 484.27 388.88 491.7M388.88 485.86 387.82 484.8 386.75 484.27 385.16 484.27 384.1 484.8 383.04 485.86 382.51 487.45 382.51 488.51 383.04 490.11 384.1 491.17 385.16 491.7 386.75 491.7 387.82 491.17 388.88 490.11M393.54 480.55 393.54 491.7M397.49 480.55 398.02 481.08 398.55 480.55 398.02 480.02 397.49 480.55M398.02 484.27 398.02 491.7M403.06 480.55 403.06 489.58 403.59 491.17 404.66 491.7 405.72 491.7M401.47 484.27 405.19 484.27M408.28 484.27 411.47 491.7M414.65 484.27 411.47 491.7 410.41 493.82 409.34 494.89 408.28 495.42 407.75 495.42M430.96 478.43 429.9 479.49 428.84 481.08 427.78 483.2 427.24 485.86 427.24 487.98 427.78 490.64 428.84 492.76 429.9 494.35 430.96 495.42M435.18 480.55 435.18 491.7M435.18 491.7 441.55 491.7M444.08 478.43 445.15 479.49 446.21 481.08 447.27 483.2 447.8 485.86 447.8 487.98 447.27 490.64 446.21 492.76 445.15 494.35 444.08 495.42" stroke="#fff" stroke-width="1.3"/>
<path d="M531.4 480.55 531.4 491.7M531.4 480.55 535.65 491.7M539.9 480.55 535.65 491.7M539.9 480.55 539.9 491.7M544.52 480.55 544.52 491.7M544.52 480.55 551.42 480.55M544.52 485.86 548.77 485.86M544.52 491.7 551.42 491.7M554.4 480.55 561.84 491.7M561.84 480.55 554.4 491.7M568.57 480.55 567.51 481.08 566.45 482.14 565.91 483.2 565.38 484.8 565.38 487.45 565.91 489.05 566.45 490.11 567.51 491.17 568.57 491.7 570.69 491.7 571.76 491.17 572.82 490.11 573.35 489.05 573.88 487.45 573.88 484.8 573.35 483.2 572.82 482.14 571.76 481.08 570.69 480.55 568.57 480.55M577.97 480.55 577.97 491.7M577.97 480.55 582.75 480.55 584.35 481.08 584.88 481.61 585.41 482.67 585.41 483.74 584.88 484.8 584.35 485.33 582.75 485.86 577.97 485.86M581.69 485.86 585.41 491.7M589.48 480.55 589.48 491.7M589.48 480.55 594.26 480.55 595.86 481.08 596.39 481.61 596.92 482.67 596.92 483.74 596.39 484.8 595.86 485.33 594.26 485.86M589.48 485.86 594.26 485.86 595.86 486.39 596.39 486.92 596.92 487.98 596.92 489.58 596.39 490.64 595.86 491.17 594.26 491.7 589.48 491.7M601.01 480.55 601.01 491.7M601.01 480.55 605.26 491.7M609.51 480.55 605.26 491.7M609.51 480.55 609.51 491.7M621.57 483.2 621.04 482.14 619.97 481.08 618.91 480.55 616.79 480.55 615.73 481.08 614.66 482.14 614.13 483.2 613.6 484.8 613.6 487.45 614.13 489.05 614.66 490.11 615.73 491.17 616.79 491.7 618.91 491.7 619.97 491.17 621.04 490.11 621.57 489.05M634.16 478.43 624.6 495.42M644.61 482.14 643.54 481.08 641.95 480.55 639.83 480.55 638.23 481.08 637.17 482.14 637.17 483.2 637.7 484.27 638.23 484.8 639.3 485.33 642.48 486.39 643.54 486.92 644.07 487.45 644.61 488.51 644.61 490.11 643.54 491.17 641.95 491.7 639.83 491.7 638.23 491.17 637.17 490.11M648.68 480.55 648.68 491.7M648.68 480.55 653.46 480.55 655.05 481.08 655.58 481.61 656.12 482.67 656.12 484.27 655.58 485.33 655.05 485.86 653.46 486.39 648.68 486.39M660.18 480.55 660.18 491.7M660.18 480.55 667.08 480.55M660.18 485.86 664.42 485.86M678.28 480.55 685.71 491.7M685.71 480.55 678.28 491.7M690.75 491.17 690.22 491.7 689.69 491.17 690.22 490.64 690.75 491.17 690.75 492.23 690.22 493.29 689.69 493.82M710.93 482.14 709.87 481.08 708.27 480.55 706.15 480.55 704.56 481.08 703.49 482.14 703.49 483.2 704.03 484.27 704.56 484.8 705.62 485.33 708.8 486.39 709.87 486.92 710.4 487.45 710.93 488.51 710.93 490.11 709.87 491.17 708.27 491.7 706.15 491.7 704.56 491.17 703.49 490.11M714.99 484.27 714.99 495.42M714.99 485.86 716.05 484.8 717.11 484.27 718.71 484.27 719.77 484.8 720.83 485.86 721.36 487.45 721.36 488.51 720.83 490.11 719.77 491.17 718.71 491.7 717.11 491.7 716.05 491.17 714.99 490.11M731.23 484.27 731.23 491.7M731.23 485.86 730.16 484.8 729.1 484.27 727.51 484.27 726.45 484.8 725.39 485.86 724.85 487.45 724.85 488.51 725.39 490.11 726.45 491.17 727.51 491.7 729.1 491.7 730.16 491.17 731.23 490.11M741.64 485.86 740.58 484.8 739.52 484.27 737.92 484.27 736.86 484.8 735.8 485.86 735.27 487.45 735.27 488.51 735.8 490.11 736.86 491.17 737.92 491.7 739.52 491.7 740.58 491.17 741.64 490.11M745.14 487.45 751.51 487.45 751.51 486.39 750.98 485.33 750.45 484.8 749.38 484.27 747.79 484.27 746.73 484.8 745.67 485.86 745.14 487.45 745.14 488.51 745.67 490.11 746.73 491.17 747.79 491.7 749.38 491.7 750.45 491.17 751.51 490.11M761.37 485.86 760.31 484.8 759.25 484.27 757.66 484.27 756.59 484.8 755.53 485.86 755 487.45 755 488.51 755.53 490.11 756.59 491.17 757.66 491.7 759.25 491.7 760.31 491.17 761.37 490.11M765.36 484.27 765.36 491.7M765.36 487.45 765.9 485.86 766.96 484.8 768.02 484.27 769.61 484.27M778.37 484.27 778.37 491.7M778.37 485.86 777.3 484.8 776.24 484.27 774.65 484.27 773.59 484.8 772.52 485.86 771.99 487.45 771.99 488.51 772.52 490.11 773.59 491.17 774.65 491.7 776.24 491.7 777.3 491.17 778.37 490.11M786.06 480.55 784.99 480.55 783.93 481.08 783.4 482.67 783.4 491.7M781.81 484.27 785.53 484.27M789.98 480.55 789.98 489.58 790.51 491.17 791.57 491.7 792.63 491.7M788.39 484.27 792.1 484.27M808.55 478.43 807.48 479.49 806.42 481.08 805.36 483.2 804.83 485.86 804.83 487.98 805.36 490.64 806.42 492.76 807.48 494.35 808.55 495.42M812.57 480.55 812.57 491.7M812.57 480.55 817.35 480.55 818.94 481.08 819.47 481.61 820.01 482.67 820.01 483.74 819.47 484.8 818.94 485.33 817.35 485.86 812.57 485.86M816.29 485.86 820.01 491.7M823.48 478.43 824.54 479.49 825.61 481.08 826.67 483.2 827.2 485.86 827.2 487.98 826.67 490.64 825.61 492.76 824.54 494.35 823.48 495.42" stroke="#00ff00" stroke-width="1.3"/>
<path d="M58.5 660.5 69.5 660.5M58.5 660.5 58.5 655.78 59.02 654.21 59.54 653.69 60.59 653.16 61.64 653.16 62.69 653.69 63.21 654.21 63.74 655.78 63.74 660.5M63.74 656.83 69.5 653.16M62.16 643.4 69.5 643.4M63.74 643.4 62.69 644.45 62.16 645.49 62.16 647.07 62.69 648.11 63.74 649.16 65.31 649.69 66.36 649.69 67.93 649.16 68.98 648.11 69.5 647.07 69.5 645.49 68.98 644.45 67.93 643.4M62.16 639.36 69.5 637.27M62.16 635.17 69.5 637.27M62.16 635.17 69.5 633.07M62.16 630.98 69.5 633.07M58.5 618.26 69.5 618.26M58.5 618.26 58.5 614.59 59.02 613.02 60.07 611.97 61.12 611.45 62.69 610.92 65.31 610.92 66.88 611.45 67.93 611.97 68.98 613.02 69.5 614.59 69.5 618.26M62.16 601.16 69.5 601.16M63.74 601.16 62.69 602.21 62.16 603.25 62.16 604.83 62.69 605.87 63.74 606.92 65.31 607.45 66.36 607.45 67.93 606.92 68.98 605.87 69.5 604.83 69.5 603.25 68.98 602.21 67.93 601.16M58.5 596.18 67.4 596.18 68.98 595.65 69.5 594.61 69.5 593.56M62.16 597.75 62.16 594.08M62.16 584.37 69.5 584.37M63.74 584.37 62.69 585.42 62.16 586.47 62.16 588.04 62.69 589.09 63.74 590.13 65.31 590.66 66.36 590.66 67.93 590.13 68.98 589.09 69.5 588.04 69.5 586.47 68.98 585.42 67.93 584.37M58.5 568.52 59.02 569.57 60.07 570.62 61.12 571.14 62.69 571.67 65.31 571.67 66.88 571.14 67.93 570.62 68.98 569.57 69.5 568.52 69.5 566.43 68.98 565.38 67.93 564.33 66.88 563.81 65.31 563.28 62.69 563.28 61.12 563.81 60.07 564.33 59.02 565.38 58.5 566.43 58.5 568.52M67.4 566.95 70.55 563.81M62.16 559.26 67.4 559.26 68.98 558.74 69.5 557.69 69.5 556.12 68.98 555.07 67.4 553.5M62.16 553.5 69.5 553.5M62.16 543.21 69.5 543.21M63.74 543.21 62.69 544.26 62.16 545.31 62.16 546.88 62.69 547.93 63.74 548.98 65.31 549.5 66.36 549.5 67.93 548.98 68.98 547.93 69.5 546.88 69.5 545.31 68.98 544.26 67.93 543.21M58.5 538.77 69.5 538.77M58.5 534.97 59.02 534.44 58.5 533.92 57.97 534.44 58.5 534.97M62.16 534.44 69.5 534.44M58.5 529.57 67.4 529.57 68.98 529.04 69.5 528 69.5 526.95M62.16 531.14 62.16 527.47M62.16 524.59 69.5 521.44M62.16 518.3 69.5 521.44 71.6 522.49 72.64 523.54 73.17 524.59 73.17 525.11" stroke="#fff" stroke-width="1.3"/>
<path d="M76.24 608.93 77.26 609.95 78.79 610.97 80.83 611.99 83.38 612.5 85.42 612.5 87.97 611.99 90.01 610.97 91.54 609.95 92.56 608.93M78.28 604.65 88.99 604.65M78.28 604.65 78.28 600.06 78.79 598.53 79.3 598.02 80.32 597.51 81.34 597.51 82.36 598.02 82.87 598.53 83.38 600.06 83.38 604.65M83.38 601.08 88.99 597.51M81.85 587.59 88.99 587.59M83.38 587.59 82.36 588.61 81.85 589.63 81.85 591.16 82.36 592.18 83.38 593.2 84.91 593.71 85.93 593.71 87.46 593.2 88.48 592.18 88.99 591.16 88.99 589.63 88.48 588.61 87.46 587.59M81.85 583.2 88.99 581.16M81.85 579.12 88.99 581.16M81.85 579.12 88.99 577.08M81.85 575.04 88.99 577.08M76.24 571.27 77.26 570.25 78.79 569.23 80.83 568.21 83.38 567.7 85.42 567.7 87.97 568.21 90.01 569.23 91.54 570.25 92.56 571.27" stroke="#fff" stroke-width="1.3"/>
<path d="M978.78 512.55 979.84 512.02 980.9 510.96 981.43 509.9 981.43 507.78 980.9 506.72 979.84 505.66 978.78 505.13 977.19 504.6 974.54 504.6 972.95 505.13 971.89 505.66 970.83 506.72 970.3 507.78 970.3 509.9 970.83 510.96 971.89 512.02 972.95 512.55M977.72 518.46 977.19 517.4 976.13 516.34 974.54 515.81 973.48 515.81 971.89 516.34 970.83 517.4 970.3 518.46 970.3 520.05 970.83 521.11 971.89 522.17 973.48 522.7 974.54 522.7 976.13 522.17 977.19 521.11 977.72 520.05 977.72 518.46M977.72 526.5 970.3 526.5M975.6 526.5 977.19 528.09 977.72 529.15 977.72 530.74 977.19 531.8 975.6 532.33 970.3 532.33M975.6 532.33 977.19 533.92 977.72 534.98 977.72 536.57 977.19 537.63 975.6 538.16 970.3 538.16M977.72 542.5 966.59 542.5M976.13 542.5 977.19 543.56 977.72 544.62 977.72 546.21 977.19 547.27 976.13 548.33 974.54 548.86 973.48 548.86 971.89 548.33 970.83 547.27 970.3 546.21 970.3 544.62 970.83 543.56 971.89 542.5M977.72 554.75 977.19 553.69 976.13 552.63 974.54 552.1 973.48 552.1 971.89 552.63 970.83 553.69 970.3 554.75 970.3 556.34 970.83 557.4 971.89 558.46 973.48 558.99 974.54 558.99 976.13 558.46 977.19 557.4 977.72 556.34 977.72 554.75M977.72 562.78 970.3 562.78M975.6 562.78 977.19 564.37 977.72 565.43 977.72 567.02 977.19 568.08 975.6 568.61 970.3 568.61M974.54 572.39 974.54 578.75 975.6 578.75 976.66 578.22 977.19 577.69 977.72 576.63 977.72 575.04 977.19 573.98 976.13 572.92 974.54 572.39 973.48 572.39 971.89 572.92 970.83 573.98 970.3 575.04 970.3 576.63 970.83 577.69 971.89 578.75M977.72 582.53 970.3 582.53M975.6 582.53 977.19 584.12 977.72 585.18 977.72 586.77 977.19 587.83 975.6 588.36 970.3 588.36M981.43 593.18 972.42 593.18 970.83 593.71 970.3 594.77 970.3 595.83M977.72 591.59 977.72 595.3M981.43 607.62 970.3 607.62M981.43 607.62 981.43 611.33 980.9 612.92 979.84 613.98 978.78 614.51 977.19 615.04 974.54 615.04 972.95 614.51 971.89 613.98 970.83 612.92 970.3 611.33 970.3 607.62M981.43 618.28 980.9 618.81 981.43 619.34 981.96 618.81 981.43 618.28M977.72 618.81 970.3 618.81M976.13 628.39 977.19 627.86 977.72 626.27 977.72 624.68 977.19 623.09 976.13 622.56 975.07 623.09 974.54 624.15 974.01 626.8 973.48 627.86 972.42 628.39 971.89 628.39 970.83 627.86 970.3 626.27 970.3 624.68 970.83 623.09 971.89 622.56M981.43 632.69 972.42 632.69 970.83 633.22 970.3 634.28 970.3 635.34M977.72 631.1 977.72 634.81M977.72 644.41 970.3 644.41M976.13 644.41 977.19 643.35 977.72 642.29 977.72 640.7 977.19 639.64 976.13 638.58 974.54 638.05 973.48 638.05 971.89 638.58 970.83 639.64 970.3 640.7 970.3 642.29 970.83 643.35 971.89 644.41M977.72 648.72 970.3 648.72M975.6 648.72 977.19 650.31 977.72 651.37 977.72 652.96 977.19 654.02 975.6 654.55 970.3 654.55M976.13 664.69 977.19 663.63 977.72 662.57 977.72 660.98 977.19 659.92 976.13 658.86 974.54 658.33 973.48 658.33 971.89 658.86 970.83 659.92 970.3 660.98 970.3 662.57 970.83 663.63 971.89 664.69M974.54 667.94 974.54 674.3 975.6 674.3 976.66 673.77 977.19 673.24 977.72 672.18 977.72 670.59 977.19 669.53 976.13 668.47 974.54 667.94 973.48 667.94 971.89 668.47 970.83 669.53 970.3 670.59 970.3 672.18 970.83 673.24 971.89 674.3" stroke="#fff" stroke-width="1.3"/>
<path d="M964.22 574.04 963.18 573 961.62 571.96 959.54 570.92 956.94 570.4 954.86 570.4 952.26 570.92 950.18 571.96 948.62 573 947.58 574.04M962.14 578.48 951.22 578.48M958.5 583.68 953.3 578.48M955.38 580.56 951.22 584.2M958.5 588.48 951.22 588.48M956.42 588.48 957.98 590.04 958.5 591.08 958.5 592.64 957.98 593.68 956.42 594.2 951.22 594.2M956.42 594.2 957.98 595.76 958.5 596.8 958.5 598.36 957.98 599.4 956.42 599.92 951.22 599.92M964.22 604.66 963.18 605.7 961.62 606.74 959.54 607.78 956.94 608.3 954.86 608.3 952.26 607.78 950.18 606.74 948.62 605.7 947.58 604.66" stroke="#fff" stroke-width="1.3"/>
<path d="M2.3 698.39 2.3 706.1M2.3 698.39 8.18 706.1M8.18 698.39 8.18 706.1M13.45 698.39 12.61 698.76 11.77 699.49 11.35 700.23 10.93 701.33 10.93 703.16 11.35 704.26 11.77 705 12.61 705.73 13.45 706.1 15.13 706.1 15.97 705.73 16.81 705 17.23 704.26 17.65 703.16 17.65 701.33 17.23 700.23 16.81 699.49 15.97 698.76 15.13 698.39 13.45 698.39M26.99 698.39 26.99 706.1M26.99 698.39 29.93 698.39 31.19 698.76 32.03 699.49 32.45 700.23 32.87 701.33 32.87 703.16 32.45 704.26 32.03 705 31.19 705.73 29.93 706.1 26.99 706.1M37.74 698.39 34.38 706.1M37.74 698.39 41.1 706.1M35.64 703.53 39.84 703.53M44.74 698.39 44.74 706.1M41.8 698.39 47.68 698.39M51.73 698.39 48.37 706.1M51.73 698.39 55.09 706.1M49.63 703.53 53.83 703.53M65.72 698.39 62.36 706.1M65.72 698.39 69.08 706.1M63.62 703.53 67.82 703.53M69.77 698.39 73.13 706.1M76.49 698.39 73.13 706.1M80.53 698.39 77.17 706.1M80.53 698.39 83.89 706.1M78.43 703.53 82.63 703.53M85.88 698.39 85.88 706.1M89.12 698.39 89.12 706.1M89.12 706.1 94.16 706.1M98.23 698.39 94.87 706.1M98.23 698.39 101.59 706.1M96.13 703.53 100.33 703.53M103.52 698.39 103.52 706.1M103.52 698.39 107.3 698.39 108.56 698.76 108.98 699.13 109.4 699.86 109.4 700.6 108.98 701.33 108.56 701.7 107.3 702.06M103.52 702.06 107.3 702.06 108.56 702.43 108.98 702.8 109.4 703.53 109.4 704.63 108.98 705.37 108.56 705.73 107.3 706.1 103.52 706.1M112.17 698.39 112.17 706.1M112.17 706.1 117.21 706.1M119.16 698.39 119.16 706.1M119.16 698.39 124.62 698.39M119.16 702.06 122.52 702.06M119.16 706.1 124.62 706.1M136.12 698.39 135.28 698.39 134.44 698.76 134.02 699.86 134.02 706.1M132.76 700.96 135.7 700.96M140.19 700.96 139.35 701.33 138.51 702.06 138.09 703.16 138.09 703.9 138.51 705 139.35 705.73 140.19 706.1 141.45 706.1 142.29 705.73 143.13 705 143.55 703.9 143.55 703.16 143.13 702.06 142.29 701.33 141.45 700.96 140.19 700.96M146.34 700.96 146.34 706.1M146.34 703.16 146.76 702.06 147.6 701.33 148.44 700.96 149.7 700.96M158.23 698.39 158.23 706.1M158.23 698.39 161.59 706.1M164.95 698.39 161.59 706.1M164.95 698.39 164.95 706.1M172.75 700.96 172.75 706.1M172.75 702.06 171.91 701.33 171.07 700.96 169.81 700.96 168.97 701.33 168.13 702.06 167.71 703.16 167.71 703.9 168.13 705 168.97 705.73 169.81 706.1 171.07 706.1 171.91 705.73 172.75 705M175.97 700.96 175.97 706.1M175.97 703.16 176.39 702.06 177.23 701.33 178.07 700.96 179.33 700.96M185.51 702.06 185.09 701.33 183.83 700.96 182.57 700.96 181.31 701.33 180.89 702.06 181.31 702.8 182.15 703.16 184.25 703.53 185.09 703.9 185.51 704.63 185.51 705 185.09 705.73 183.83 706.1 182.57 706.1 181.31 705.73 180.89 705M194.87 698.39 194.87 706.1M194.87 698.39 200.33 698.39M194.87 702.06 198.23 702.06M194.87 706.1 200.33 706.1M202.28 700.96 206.9 706.1M206.9 700.96 202.28 706.1M209.68 700.96 209.68 708.67M209.68 702.06 210.52 701.33 211.36 700.96 212.62 700.96 213.46 701.33 214.3 702.06 214.72 703.16 214.72 703.9 214.3 705 213.46 705.73 212.62 706.1 211.36 706.1 210.52 705.73 209.68 705M217.52 700.96 217.52 706.1M217.52 703.16 217.94 702.06 218.78 701.33 219.62 700.96 220.88 700.96M222.43 703.16 227.47 703.16 227.47 702.43 227.05 701.7 226.63 701.33 225.79 700.96 224.53 700.96 223.69 701.33 222.85 702.06 222.43 703.16 222.43 703.9 222.85 705 223.69 705.73 224.53 706.1 225.79 706.1 226.63 705.73 227.47 705M234.47 702.06 234.05 701.33 232.79 700.96 231.53 700.96 230.27 701.33 229.85 702.06 230.27 702.8 231.11 703.16 233.21 703.53 234.05 703.9 234.47 704.63 234.47 705 234.05 705.73 232.79 706.1 231.53 706.1 230.27 705.73 229.85 705M241.46 702.06 241.04 701.33 239.78 700.96 238.52 700.96 237.26 701.33 236.84 702.06 237.26 702.8 238.1 703.16 240.2 703.53 241.04 703.9 241.46 704.63 241.46 705 241.04 705.73 239.78 706.1 238.52 706.1 237.26 705.73 236.84 705M257.53 696.93 249.97 708.67M266.46 698.39 266.46 706.1M266.46 698.39 271.92 698.39M266.46 702.06 269.82 702.06M266.46 706.1 271.92 706.1M274.28 698.39 274.28 706.1M274.28 706.1 279.32 706.1M286.73 699.49 285.89 698.76 284.63 698.39 282.95 698.39 281.69 698.76 280.85 699.49 280.85 700.23 281.27 700.96 281.69 701.33 282.53 701.7 285.05 702.43 285.89 702.8 286.31 703.16 286.73 703.9 286.73 705 285.89 705.73 284.63 706.1 282.95 706.1 281.69 705.73 280.85 705M294.96 699.49 294.12 698.76 292.86 698.39 291.18 698.39 289.92 698.76 289.08 699.49 289.08 700.23 289.5 700.96 289.92 701.33 290.76 701.7 293.28 702.43 294.12 702.8 294.54 703.16 294.96 703.9 294.96 705 294.12 705.73 292.86 706.1 291.18 706.1 289.92 705.73 289.08 705M303.61 700.23 303.19 699.49 302.35 698.76 301.51 698.39 299.83 698.39 298.99 698.76 298.15 699.49 297.73 700.23 297.31 701.33 297.31 703.16 297.73 704.26 298.15 705 298.99 705.73 299.83 706.1 301.51 706.1 302.35 705.73 303.19 705 303.61 704.26M306.42 698.39 306.42 706.1M309.66 698.39 309.66 706.1M309.66 706.1 314.7 706.1" stroke="#fff" stroke-width="1.3"/>
</g>
</svg></body></html>
